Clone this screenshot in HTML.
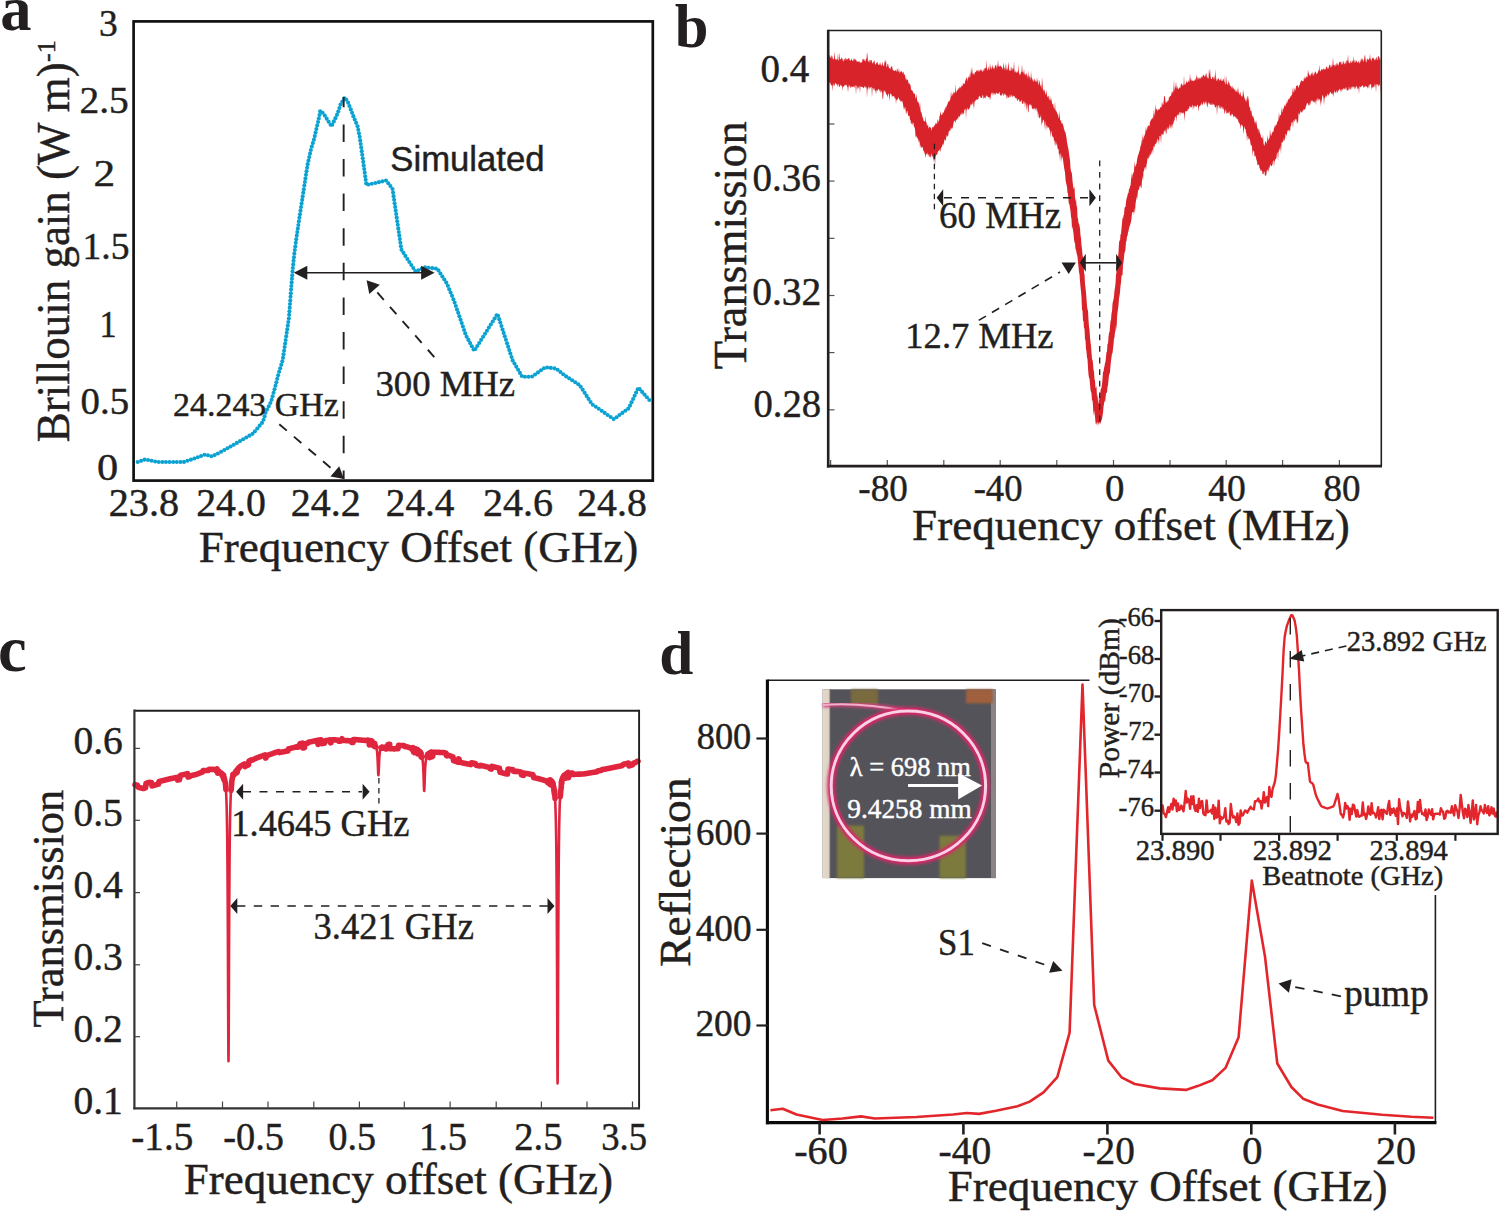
<!DOCTYPE html>
<html><head><meta charset="utf-8"><style>html,body{margin:0;padding:0;background:#fff;overflow:hidden;width:1499px;height:1211px;}svg{display:block;}</style></head>
<body><svg width="1499" height="1211" viewBox="0 0 1499 1211">
<rect width="1499" height="1211" fill="#fff"/>
<text x="0.30" y="30.25" font-family='"Liberation Serif", serif' font-size="62.5" font-weight="bold" fill="#231f20" stroke="#231f20" stroke-width="0">a</text>
<rect x="133.6" y="21.4" width="519.2" height="459.2" fill="none" stroke="#111" stroke-width="2.7"/>
<text transform="translate(98.91,35.95) scale(0.9662,1)" font-family='"Liberation Serif", serif' font-size="38.8" fill="#231f20" stroke="#231f20" stroke-width="0.45">3</text>
<text transform="translate(79.42,112.85) scale(1.0166,1)" font-family='"Liberation Serif", serif' font-size="38.8" fill="#231f20" stroke="#231f20" stroke-width="0.45">2.5</text>
<text transform="translate(93.45,186.05) scale(1.1161,1)" font-family='"Liberation Serif", serif' font-size="38.8" fill="#231f20" stroke="#231f20" stroke-width="0.45">2</text>
<text transform="translate(82.50,258.50) scale(0.9701,1)" font-family='"Liberation Serif", serif' font-size="38.8" fill="#231f20" stroke="#231f20" stroke-width="0.45">1.5</text>
<text transform="translate(99.42,336.50) scale(0.8800,1)" font-family='"Liberation Serif", serif' font-size="38.8" fill="#231f20" stroke="#231f20" stroke-width="0.45">1</text>
<text transform="translate(80.60,414.45) scale(1.0000,1)" font-family='"Liberation Serif", serif' font-size="38.8" fill="#231f20" stroke="#231f20" stroke-width="0.45">0.5</text>
<text transform="translate(96.96,479.65) scale(1.0909,1)" font-family='"Liberation Serif", serif' font-size="38.8" fill="#231f20" stroke="#231f20" stroke-width="0.45">0</text>
<text transform="translate(108.72,515.65) scale(1.0182,1)" font-family='"Liberation Serif", serif' font-size="39.5" fill="#231f20" stroke="#231f20" stroke-width="0.45">23.8</text>
<text transform="translate(196.14,515.65) scale(1.0076,1)" font-family='"Liberation Serif", serif' font-size="39.5" fill="#231f20" stroke="#231f20" stroke-width="0.45">24.0</text>
<text transform="translate(290.63,515.65) scale(1.0130,1)" font-family='"Liberation Serif", serif' font-size="39.5" fill="#231f20" stroke="#231f20" stroke-width="0.45">24.2</text>
<text transform="translate(385.86,515.65) scale(0.9925,1)" font-family='"Liberation Serif", serif' font-size="39.5" fill="#231f20" stroke="#231f20" stroke-width="0.45">24.4</text>
<text transform="translate(483.02,515.65) scale(1.0143,1)" font-family='"Liberation Serif", serif' font-size="39.5" fill="#231f20" stroke="#231f20" stroke-width="0.45">24.6</text>
<text transform="translate(577.14,515.65) scale(1.0076,1)" font-family='"Liberation Serif", serif' font-size="39.5" fill="#231f20" stroke="#231f20" stroke-width="0.45">24.8</text>
<text transform="translate(198.76,561.75) scale(0.9949,1)" font-family='"Liberation Serif", serif' font-size="45.3" fill="#231f20" stroke="#231f20" stroke-width="0.45">Frequency Offset (GHz)</text>
<text transform="translate(69.35,442.13) rotate(-90) scale(0.9879,1)" font-family='"Liberation Serif", serif' font-size="45.5" fill="#231f20" stroke="#231f20" stroke-width="0.45">Brillouin gain (W m)</text>
<text transform="translate(55,62) rotate(-90)" font-family='"Liberation Serif", serif' font-size="26" fill="#231f20" stroke="#231f20" stroke-width="0.45">-1</text>
<g fill="#0aa2d2"><circle cx="137.70" cy="462.00" r="2.05"/><circle cx="141.12" cy="460.83" r="2.05"/><circle cx="144.55" cy="459.66" r="2.05"/><circle cx="148.06" cy="459.98" r="2.05"/><circle cx="151.60" cy="460.73" r="2.05"/><circle cx="155.14" cy="461.48" r="2.05"/><circle cx="158.70" cy="462.00" r="2.05"/><circle cx="162.32" cy="462.00" r="2.05"/><circle cx="165.94" cy="462.00" r="2.05"/><circle cx="169.55" cy="462.00" r="2.05"/><circle cx="173.17" cy="462.00" r="2.05"/><circle cx="176.79" cy="462.00" r="2.05"/><circle cx="180.41" cy="462.00" r="2.05"/><circle cx="184.01" cy="461.90" r="2.05"/><circle cx="187.45" cy="460.77" r="2.05"/><circle cx="190.88" cy="459.65" r="2.05"/><circle cx="194.32" cy="458.53" r="2.05"/><circle cx="197.71" cy="457.25" r="2.05"/><circle cx="201.09" cy="455.96" r="2.05"/><circle cx="204.47" cy="454.68" r="2.05"/><circle cx="207.92" cy="455.19" r="2.05"/><circle cx="211.40" cy="456.20" r="2.05"/><circle cx="214.67" cy="455.09" r="2.05"/><circle cx="217.89" cy="453.44" r="2.05"/><circle cx="221.12" cy="451.80" r="2.05"/><circle cx="224.29" cy="450.06" r="2.05"/><circle cx="227.44" cy="448.28" r="2.05"/><circle cx="230.59" cy="446.50" r="2.05"/><circle cx="233.73" cy="444.72" r="2.05"/><circle cx="236.87" cy="442.91" r="2.05"/><circle cx="240.00" cy="441.10" r="2.05"/><circle cx="243.13" cy="439.29" r="2.05"/><circle cx="246.26" cy="437.48" r="2.05"/><circle cx="249.40" cy="435.67" r="2.05"/><circle cx="252.53" cy="433.86" r="2.05"/><circle cx="254.94" cy="431.18" r="2.05"/><circle cx="257.28" cy="428.43" r="2.05"/><circle cx="259.62" cy="425.67" r="2.05"/><circle cx="261.97" cy="422.92" r="2.05"/><circle cx="263.57" cy="419.76" r="2.05"/><circle cx="264.59" cy="416.29" r="2.05"/><circle cx="265.62" cy="412.82" r="2.05"/><circle cx="267.13" cy="409.54" r="2.05"/><circle cx="268.75" cy="406.31" r="2.05"/><circle cx="270.36" cy="403.07" r="2.05"/><circle cx="271.66" cy="399.71" r="2.05"/><circle cx="272.62" cy="396.23" r="2.05"/><circle cx="273.58" cy="392.74" r="2.05"/><circle cx="274.55" cy="389.25" r="2.05"/><circle cx="275.47" cy="385.75" r="2.05"/><circle cx="276.35" cy="382.25" r="2.05"/><circle cx="277.23" cy="378.74" r="2.05"/><circle cx="278.12" cy="375.23" r="2.05"/><circle cx="279.16" cy="371.77" r="2.05"/><circle cx="280.20" cy="368.30" r="2.05"/><circle cx="281.25" cy="364.84" r="2.05"/><circle cx="282.29" cy="361.37" r="2.05"/><circle cx="283.02" cy="357.84" r="2.05"/><circle cx="283.55" cy="354.26" r="2.05"/><circle cx="284.08" cy="350.68" r="2.05"/><circle cx="284.61" cy="347.10" r="2.05"/><circle cx="285.14" cy="343.53" r="2.05"/><circle cx="285.67" cy="339.95" r="2.05"/><circle cx="286.20" cy="336.37" r="2.05"/><circle cx="286.73" cy="332.79" r="2.05"/><circle cx="287.26" cy="329.21" r="2.05"/><circle cx="287.79" cy="325.63" r="2.05"/><circle cx="288.31" cy="322.05" r="2.05"/><circle cx="288.84" cy="318.48" r="2.05"/><circle cx="289.15" cy="314.87" r="2.05"/><circle cx="289.42" cy="311.27" r="2.05"/><circle cx="289.70" cy="307.66" r="2.05"/><circle cx="289.98" cy="304.05" r="2.05"/><circle cx="290.26" cy="300.44" r="2.05"/><circle cx="290.53" cy="296.84" r="2.05"/><circle cx="290.81" cy="293.23" r="2.05"/><circle cx="291.09" cy="289.62" r="2.05"/><circle cx="291.36" cy="286.02" r="2.05"/><circle cx="291.64" cy="282.41" r="2.05"/><circle cx="291.92" cy="278.80" r="2.05"/><circle cx="292.19" cy="275.20" r="2.05"/><circle cx="292.51" cy="271.59" r="2.05"/><circle cx="292.87" cy="267.99" r="2.05"/><circle cx="293.22" cy="264.39" r="2.05"/><circle cx="293.57" cy="260.79" r="2.05"/><circle cx="293.92" cy="257.19" r="2.05"/><circle cx="294.33" cy="253.60" r="2.05"/><circle cx="294.81" cy="250.01" r="2.05"/><circle cx="295.29" cy="246.43" r="2.05"/><circle cx="295.77" cy="242.84" r="2.05"/><circle cx="296.26" cy="239.26" r="2.05"/><circle cx="296.75" cy="235.67" r="2.05"/><circle cx="297.29" cy="232.10" r="2.05"/><circle cx="297.82" cy="228.52" r="2.05"/><circle cx="298.35" cy="224.94" r="2.05"/><circle cx="298.89" cy="221.36" r="2.05"/><circle cx="299.42" cy="217.78" r="2.05"/><circle cx="299.96" cy="214.21" r="2.05"/><circle cx="300.50" cy="210.63" r="2.05"/><circle cx="301.05" cy="207.05" r="2.05"/><circle cx="301.60" cy="203.48" r="2.05"/><circle cx="302.15" cy="199.90" r="2.05"/><circle cx="302.70" cy="196.33" r="2.05"/><circle cx="303.25" cy="192.75" r="2.05"/><circle cx="303.80" cy="189.18" r="2.05"/><circle cx="304.34" cy="185.60" r="2.05"/><circle cx="304.89" cy="182.03" r="2.05"/><circle cx="305.44" cy="178.45" r="2.05"/><circle cx="305.99" cy="174.87" r="2.05"/><circle cx="306.54" cy="171.30" r="2.05"/><circle cx="307.08" cy="167.72" r="2.05"/><circle cx="307.69" cy="164.16" r="2.05"/><circle cx="308.47" cy="160.63" r="2.05"/><circle cx="309.26" cy="157.10" r="2.05"/><circle cx="310.05" cy="153.56" r="2.05"/><circle cx="310.84" cy="150.03" r="2.05"/><circle cx="311.78" cy="146.54" r="2.05"/><circle cx="312.86" cy="143.09" r="2.05"/><circle cx="313.93" cy="139.64" r="2.05"/><circle cx="314.77" cy="136.12" r="2.05"/><circle cx="315.56" cy="132.59" r="2.05"/><circle cx="316.35" cy="129.06" r="2.05"/><circle cx="317.18" cy="125.54" r="2.05"/><circle cx="318.02" cy="122.02" r="2.05"/><circle cx="318.78" cy="118.48" r="2.05"/><circle cx="319.48" cy="114.93" r="2.05"/><circle cx="320.18" cy="111.39" r="2.05"/><circle cx="322.61" cy="112.75" r="2.05"/><circle cx="324.80" cy="115.58" r="2.05"/><circle cx="326.72" cy="118.65" r="2.05"/><circle cx="328.63" cy="121.71" r="2.05"/><circle cx="330.55" cy="124.78" r="2.05"/><circle cx="332.29" cy="124.65" r="2.05"/><circle cx="333.85" cy="121.39" r="2.05"/><circle cx="335.42" cy="118.13" r="2.05"/><circle cx="336.98" cy="114.87" r="2.05"/><circle cx="338.24" cy="111.48" r="2.05"/><circle cx="339.38" cy="108.05" r="2.05"/><circle cx="340.53" cy="104.62" r="2.05"/><circle cx="342.36" cy="101.51" r="2.05"/><circle cx="344.24" cy="98.42" r="2.05"/><circle cx="346.21" cy="99.62" r="2.05"/><circle cx="348.14" cy="102.67" r="2.05"/><circle cx="349.45" cy="106.04" r="2.05"/><circle cx="350.77" cy="109.41" r="2.05"/><circle cx="352.07" cy="112.78" r="2.05"/><circle cx="353.38" cy="116.16" r="2.05"/><circle cx="354.71" cy="119.52" r="2.05"/><circle cx="356.13" cy="122.85" r="2.05"/><circle cx="357.55" cy="126.18" r="2.05"/><circle cx="358.27" cy="129.72" r="2.05"/><circle cx="358.97" cy="133.27" r="2.05"/><circle cx="359.67" cy="136.82" r="2.05"/><circle cx="360.21" cy="140.39" r="2.05"/><circle cx="360.72" cy="143.97" r="2.05"/><circle cx="361.24" cy="147.55" r="2.05"/><circle cx="361.74" cy="151.14" r="2.05"/><circle cx="362.23" cy="154.72" r="2.05"/><circle cx="362.72" cy="158.30" r="2.05"/><circle cx="363.22" cy="161.89" r="2.05"/><circle cx="363.71" cy="165.47" r="2.05"/><circle cx="364.20" cy="169.05" r="2.05"/><circle cx="364.70" cy="172.64" r="2.05"/><circle cx="365.19" cy="176.22" r="2.05"/><circle cx="365.68" cy="179.81" r="2.05"/><circle cx="366.18" cy="183.39" r="2.05"/><circle cx="368.34" cy="184.56" r="2.05"/><circle cx="371.87" cy="183.76" r="2.05"/><circle cx="375.40" cy="182.96" r="2.05"/><circle cx="378.92" cy="182.15" r="2.05"/><circle cx="382.45" cy="181.35" r="2.05"/><circle cx="385.98" cy="180.55" r="2.05"/><circle cx="388.25" cy="183.20" r="2.05"/><circle cx="390.44" cy="186.08" r="2.05"/><circle cx="392.53" cy="189.00" r="2.05"/><circle cx="393.05" cy="192.58" r="2.05"/><circle cx="393.58" cy="196.16" r="2.05"/><circle cx="394.10" cy="199.74" r="2.05"/><circle cx="394.62" cy="203.32" r="2.05"/><circle cx="395.15" cy="206.90" r="2.05"/><circle cx="395.67" cy="210.48" r="2.05"/><circle cx="396.19" cy="214.06" r="2.05"/><circle cx="396.71" cy="217.64" r="2.05"/><circle cx="397.24" cy="221.22" r="2.05"/><circle cx="397.76" cy="224.80" r="2.05"/><circle cx="398.28" cy="228.38" r="2.05"/><circle cx="398.81" cy="231.96" r="2.05"/><circle cx="399.33" cy="235.54" r="2.05"/><circle cx="399.85" cy="239.12" r="2.05"/><circle cx="400.38" cy="242.70" r="2.05"/><circle cx="400.90" cy="246.28" r="2.05"/><circle cx="401.49" cy="249.83" r="2.05"/><circle cx="403.45" cy="252.87" r="2.05"/><circle cx="405.41" cy="255.91" r="2.05"/><circle cx="407.38" cy="258.94" r="2.05"/><circle cx="409.34" cy="261.98" r="2.05"/><circle cx="411.31" cy="265.02" r="2.05"/><circle cx="413.27" cy="268.06" r="2.05"/><circle cx="415.24" cy="271.09" r="2.05"/><circle cx="418.38" cy="270.26" r="2.05"/><circle cx="421.70" cy="268.82" r="2.05"/><circle cx="425.02" cy="267.40" r="2.05"/><circle cx="428.62" cy="267.78" r="2.05"/><circle cx="432.22" cy="268.16" r="2.05"/><circle cx="435.82" cy="268.53" r="2.05"/><circle cx="438.49" cy="270.41" r="2.05"/><circle cx="440.43" cy="273.46" r="2.05"/><circle cx="442.37" cy="276.51" r="2.05"/><circle cx="444.31" cy="279.57" r="2.05"/><circle cx="446.25" cy="282.62" r="2.05"/><circle cx="447.85" cy="285.85" r="2.05"/><circle cx="449.24" cy="289.19" r="2.05"/><circle cx="450.62" cy="292.53" r="2.05"/><circle cx="452.01" cy="295.87" r="2.05"/><circle cx="453.39" cy="299.22" r="2.05"/><circle cx="454.64" cy="302.61" r="2.05"/><circle cx="455.82" cy="306.03" r="2.05"/><circle cx="457.00" cy="309.45" r="2.05"/><circle cx="458.19" cy="312.87" r="2.05"/><circle cx="459.37" cy="316.28" r="2.05"/><circle cx="460.56" cy="319.70" r="2.05"/><circle cx="461.74" cy="323.12" r="2.05"/><circle cx="462.93" cy="326.54" r="2.05"/><circle cx="464.11" cy="329.96" r="2.05"/><circle cx="465.29" cy="333.38" r="2.05"/><circle cx="466.65" cy="336.72" r="2.05"/><circle cx="468.38" cy="339.90" r="2.05"/><circle cx="470.11" cy="343.08" r="2.05"/><circle cx="471.83" cy="346.25" r="2.05"/><circle cx="473.56" cy="349.43" r="2.05"/><circle cx="475.40" cy="349.05" r="2.05"/><circle cx="477.32" cy="345.99" r="2.05"/><circle cx="479.25" cy="342.93" r="2.05"/><circle cx="481.17" cy="339.87" r="2.05"/><circle cx="483.10" cy="336.80" r="2.05"/><circle cx="485.02" cy="333.74" r="2.05"/><circle cx="486.95" cy="330.68" r="2.05"/><circle cx="488.88" cy="327.62" r="2.05"/><circle cx="490.80" cy="324.55" r="2.05"/><circle cx="492.73" cy="321.49" r="2.05"/><circle cx="494.65" cy="318.43" r="2.05"/><circle cx="496.58" cy="315.37" r="2.05"/><circle cx="498.08" cy="315.69" r="2.05"/><circle cx="499.20" cy="319.13" r="2.05"/><circle cx="500.32" cy="322.57" r="2.05"/><circle cx="501.44" cy="326.01" r="2.05"/><circle cx="502.56" cy="329.45" r="2.05"/><circle cx="503.68" cy="332.89" r="2.05"/><circle cx="504.80" cy="336.33" r="2.05"/><circle cx="505.92" cy="339.77" r="2.05"/><circle cx="507.04" cy="343.21" r="2.05"/><circle cx="508.16" cy="346.65" r="2.05"/><circle cx="509.28" cy="350.09" r="2.05"/><circle cx="510.40" cy="353.53" r="2.05"/><circle cx="511.52" cy="356.97" r="2.05"/><circle cx="512.66" cy="360.40" r="2.05"/><circle cx="514.48" cy="363.53" r="2.05"/><circle cx="516.30" cy="366.65" r="2.05"/><circle cx="518.12" cy="369.78" r="2.05"/><circle cx="519.94" cy="372.91" r="2.05"/><circle cx="521.76" cy="376.04" r="2.05"/><circle cx="524.93" cy="376.80" r="2.05"/><circle cx="528.55" cy="376.80" r="2.05"/><circle cx="532.08" cy="376.53" r="2.05"/><circle cx="535.05" cy="374.46" r="2.05"/><circle cx="538.01" cy="372.38" r="2.05"/><circle cx="540.97" cy="370.30" r="2.05"/><circle cx="543.93" cy="368.23" r="2.05"/><circle cx="547.21" cy="367.43" r="2.05"/><circle cx="550.80" cy="367.89" r="2.05"/><circle cx="554.39" cy="368.35" r="2.05"/><circle cx="557.60" cy="369.68" r="2.05"/><circle cx="560.39" cy="371.99" r="2.05"/><circle cx="563.17" cy="374.30" r="2.05"/><circle cx="566.09" cy="376.41" r="2.05"/><circle cx="569.15" cy="378.35" r="2.05"/><circle cx="572.20" cy="380.30" r="2.05"/><circle cx="575.25" cy="382.24" r="2.05"/><circle cx="578.31" cy="384.18" r="2.05"/><circle cx="580.73" cy="386.75" r="2.05"/><circle cx="582.69" cy="389.79" r="2.05"/><circle cx="584.65" cy="392.83" r="2.05"/><circle cx="586.60" cy="395.88" r="2.05"/><circle cx="588.56" cy="398.92" r="2.05"/><circle cx="590.52" cy="401.96" r="2.05"/><circle cx="592.78" cy="404.71" r="2.05"/><circle cx="595.76" cy="406.76" r="2.05"/><circle cx="598.74" cy="408.81" r="2.05"/><circle cx="601.72" cy="410.87" r="2.05"/><circle cx="604.69" cy="412.92" r="2.05"/><circle cx="607.67" cy="414.98" r="2.05"/><circle cx="610.65" cy="417.03" r="2.05"/><circle cx="613.63" cy="419.08" r="2.05"/><circle cx="616.55" cy="417.18" r="2.05"/><circle cx="619.47" cy="415.04" r="2.05"/><circle cx="622.38" cy="412.91" r="2.05"/><circle cx="625.30" cy="410.77" r="2.05"/><circle cx="628.22" cy="408.63" r="2.05"/><circle cx="630.03" cy="405.58" r="2.05"/><circle cx="631.56" cy="402.30" r="2.05"/><circle cx="633.10" cy="399.03" r="2.05"/><circle cx="634.63" cy="395.75" r="2.05"/><circle cx="636.16" cy="392.47" r="2.05"/><circle cx="637.70" cy="389.20" r="2.05"/><circle cx="639.70" cy="389.17" r="2.05"/><circle cx="642.10" cy="391.88" r="2.05"/><circle cx="644.50" cy="394.59" r="2.05"/><circle cx="646.90" cy="397.29" r="2.05"/><circle cx="649.30" cy="400.00" r="2.05"/></g>
<line x1="343.65" y1="97" x2="343.65" y2="479" stroke="#231f20" stroke-width="1.9" stroke-dasharray="17.5 17.1" stroke-dashoffset="7.2"/>
<line x1="300.00" y1="272.70" x2="428.00" y2="272.70" stroke="#231f20" stroke-width="1.6" stroke-linecap="butt"/>
<polygon points="293.80,272.70 307.30,265.70 307.30,279.70" fill="#231f20"/>
<polygon points="434.60,272.70 421.10,279.70 421.10,265.70" fill="#231f20"/>
<line x1="434.30" y1="357.10" x2="371.36" y2="285.70" stroke="#231f20" stroke-width="1.9" stroke-dasharray="9.8 9.3" stroke-linecap="butt"/>
<polygon points="366.60,280.30 379.79,284.67 369.28,293.93" fill="#231f20"/>
<line x1="279.30" y1="424.30" x2="338.51" y2="474.45" stroke="#231f20" stroke-width="1.9" stroke-dasharray="9.8 9.3" stroke-linecap="butt"/>
<polygon points="344.00,479.10 330.45,476.53 339.24,466.16" fill="#231f20"/>
<text x="390.30" y="171.05" font-family='"Liberation Sans", sans-serif' font-size="34.71" fill="#231f20" stroke="#231f20" stroke-width="0.45">Simulated</text>
<text x="375.45" y="395.80" font-family='"Liberation Serif", serif' font-size="36.7" fill="#231f20" stroke="#231f20" stroke-width="0.45">300 MHz</text>
<text x="173.00" y="415.50" font-family='"Liberation Serif", serif' font-size="33.95" fill="#231f20" stroke="#231f20" stroke-width="0.45">24.243 GHz</text>
<text x="674.65" y="47.20" font-family='"Liberation Serif", serif' font-size="60.6" font-weight="bold" fill="#231f20" stroke="#231f20" stroke-width="0">b</text>
<line x1="828.00" y1="66.80" x2="834.50" y2="66.80" stroke="#555" stroke-width="1.2" stroke-linecap="butt"/>
<line x1="828.00" y1="124.00" x2="834.50" y2="124.00" stroke="#555" stroke-width="1.2" stroke-linecap="butt"/>
<line x1="828.00" y1="181.10" x2="834.50" y2="181.10" stroke="#555" stroke-width="1.2" stroke-linecap="butt"/>
<line x1="828.00" y1="238.30" x2="834.50" y2="238.30" stroke="#555" stroke-width="1.2" stroke-linecap="butt"/>
<line x1="828.00" y1="295.50" x2="834.50" y2="295.50" stroke="#555" stroke-width="1.2" stroke-linecap="butt"/>
<line x1="828.00" y1="352.60" x2="834.50" y2="352.60" stroke="#555" stroke-width="1.2" stroke-linecap="butt"/>
<line x1="828.00" y1="409.80" x2="834.50" y2="409.80" stroke="#555" stroke-width="1.2" stroke-linecap="butt"/>
<line x1="830.60" y1="460.00" x2="830.60" y2="466.00" stroke="#555" stroke-width="1.2" stroke-linecap="butt"/>
<line x1="887.30" y1="460.00" x2="887.30" y2="466.00" stroke="#555" stroke-width="1.2" stroke-linecap="butt"/>
<line x1="943.80" y1="460.00" x2="943.80" y2="466.00" stroke="#555" stroke-width="1.2" stroke-linecap="butt"/>
<line x1="1000.20" y1="460.00" x2="1000.20" y2="466.00" stroke="#555" stroke-width="1.2" stroke-linecap="butt"/>
<line x1="1056.80" y1="460.00" x2="1056.80" y2="466.00" stroke="#555" stroke-width="1.2" stroke-linecap="butt"/>
<line x1="1113.50" y1="460.00" x2="1113.50" y2="466.00" stroke="#555" stroke-width="1.2" stroke-linecap="butt"/>
<line x1="1170.00" y1="460.00" x2="1170.00" y2="466.00" stroke="#555" stroke-width="1.2" stroke-linecap="butt"/>
<line x1="1226.20" y1="460.00" x2="1226.20" y2="466.00" stroke="#555" stroke-width="1.2" stroke-linecap="butt"/>
<line x1="1282.60" y1="460.00" x2="1282.60" y2="466.00" stroke="#555" stroke-width="1.2" stroke-linecap="butt"/>
<line x1="1339.40" y1="460.00" x2="1339.40" y2="466.00" stroke="#555" stroke-width="1.2" stroke-linecap="butt"/>
<polygon points="829.0,55.0 829.5,55.1 830.0,58.2 830.5,56.9 831.0,56.2 831.5,55.0 832.0,59.3 832.5,55.3 833.0,59.7 833.5,58.9 834.0,58.6 834.5,51.2 835.0,57.9 835.5,59.9 836.0,58.8 836.5,59.5 837.0,60.1 837.5,59.0 838.0,53.1 838.5,60.4 839.0,60.5 839.5,52.3 840.0,59.4 840.5,59.3 841.0,59.1 841.5,56.9 842.0,58.8 842.5,58.7 843.0,61.6 843.5,61.3 844.0,58.5 844.5,60.2 845.0,58.0 845.5,58.0 846.0,60.8 846.5,58.8 847.0,58.8 847.5,59.7 848.0,58.4 848.5,58.6 849.0,57.8 849.5,58.9 850.0,61.2 850.5,60.2 851.0,60.0 851.5,57.9 852.0,60.6 852.5,60.6 853.0,61.2 853.5,58.1 854.0,61.1 854.5,58.4 855.0,58.7 855.5,59.4 856.0,60.5 856.5,60.2 857.0,62.4 857.5,61.2 858.0,61.2 858.5,61.7 859.0,61.5 859.5,61.6 860.0,62.8 860.5,63.1 861.0,61.3 861.5,62.6 862.0,62.8 862.5,59.4 863.0,58.6 863.5,59.2 864.0,60.4 864.5,58.9 865.0,61.7 865.5,61.2 866.0,58.7 866.5,58.9 867.0,52.1 867.5,55.2 868.0,61.7 868.5,61.7 869.0,60.0 869.5,60.3 870.0,63.3 870.5,59.6 871.0,60.6 871.5,59.7 872.0,61.5 872.5,64.1 873.0,62.5 873.5,62.2 874.0,60.5 874.5,60.6 875.0,64.7 875.5,64.5 876.0,62.9 876.5,63.4 877.0,62.1 877.5,62.1 878.0,64.4 878.5,65.3 879.0,63.9 879.5,65.2 880.0,61.7 880.5,63.9 881.0,65.8 881.5,65.4 882.0,63.8 882.5,61.7 883.0,66.0 883.5,65.2 884.0,66.2 884.5,62.0 885.0,60.5 885.5,63.0 886.0,58.8 886.5,67.3 887.0,67.0 887.5,64.1 888.0,64.1 888.5,65.7 889.0,67.9 889.5,67.9 890.0,68.8 890.5,69.0 891.0,66.0 891.5,67.1 892.0,65.9 892.5,68.2 893.0,70.8 893.5,69.9 894.0,70.7 894.5,70.7 895.0,71.3 895.5,69.5 896.0,70.8 896.5,72.1 897.0,68.5 897.5,69.0 898.0,72.1 898.5,71.4 899.0,67.8 899.5,74.2 900.0,70.3 900.5,72.2 901.0,71.9 901.5,70.7 902.0,71.7 902.5,73.6 903.0,71.7 903.5,71.8 904.0,75.6 904.5,74.4 905.0,74.1 905.5,79.9 906.0,76.3 906.5,81.1 907.0,79.1 907.5,79.8 908.0,79.9 908.5,83.1 909.0,83.9 909.5,82.8 910.0,85.2 910.5,84.6 911.0,89.6 911.5,90.2 912.0,89.7 912.5,91.0 913.0,92.0 913.5,92.9 914.0,94.2 914.5,92.8 915.0,94.4 915.5,97.7 916.0,98.8 916.5,93.6 917.0,99.2 917.5,102.6 918.0,100.6 918.5,102.9 919.0,103.5 919.5,108.0 920.0,101.6 920.5,109.9 921.0,112.3 921.5,112.2 922.0,115.2 922.5,117.0 923.0,117.9 923.5,120.3 924.0,121.2 924.5,121.1 925.0,121.8 925.5,115.8 926.0,123.0 926.5,121.7 927.0,126.3 927.5,125.2 928.0,123.9 928.5,128.8 929.0,127.4 929.5,126.5 930.0,126.7 930.5,127.5 931.0,128.2 931.5,131.1 932.0,127.7 932.5,127.2 933.0,126.8 933.5,127.4 934.0,125.5 934.5,125.7 935.0,125.1 935.5,123.2 936.0,123.2 936.5,123.2 937.0,124.5 937.5,120.3 938.0,118.9 938.5,121.9 939.0,121.3 939.5,116.3 940.0,115.3 940.5,110.4 941.0,114.5 941.5,114.5 942.0,115.4 942.5,113.8 943.0,111.5 943.5,113.2 944.0,111.9 944.5,108.2 945.0,111.0 945.5,106.3 946.0,107.9 946.5,106.7 947.0,104.7 947.5,104.4 948.0,102.0 948.5,101.2 949.0,102.2 949.5,100.5 950.0,99.9 950.5,98.1 951.0,90.4 951.5,95.6 952.0,97.0 952.5,92.9 953.0,94.9 953.5,91.9 954.0,91.6 954.5,93.0 955.0,93.6 955.5,83.5 956.0,93.5 956.5,91.1 957.0,91.1 957.5,89.2 958.0,90.3 958.5,87.7 959.0,88.9 959.5,86.1 960.0,88.9 960.5,86.6 961.0,87.7 961.5,85.5 962.0,85.8 962.5,86.3 963.0,82.3 963.5,84.6 964.0,83.5 964.5,84.3 965.0,82.0 965.5,80.2 966.0,78.5 966.5,78.4 967.0,76.4 967.5,81.4 968.0,78.5 968.5,76.1 969.0,78.2 969.5,76.5 970.0,71.9 970.5,77.7 971.0,67.8 971.5,73.7 972.0,66.5 972.5,72.8 973.0,74.7 973.5,72.6 974.0,75.5 974.5,73.5 975.0,72.2 975.5,71.9 976.0,71.5 976.5,69.7 977.0,72.1 977.5,70.5 978.0,69.4 978.5,72.1 979.0,69.5 979.5,71.7 980.0,70.1 980.5,68.8 981.0,71.8 981.5,69.3 982.0,70.7 982.5,72.5 983.0,68.4 983.5,70.6 984.0,71.5 984.5,67.9 985.0,68.4 985.5,67.7 986.0,67.8 986.5,59.3 987.0,71.0 987.5,69.5 988.0,68.3 988.5,66.4 989.0,70.1 989.5,69.9 990.0,62.7 990.5,68.2 991.0,66.1 991.5,69.4 992.0,68.6 992.5,64.3 993.0,67.5 993.5,69.2 994.0,66.4 994.5,69.4 995.0,66.0 995.5,64.9 996.0,65.4 996.5,68.8 997.0,63.0 997.5,68.2 998.0,59.3 998.5,65.7 999.0,66.7 999.5,65.9 1000.0,66.6 1000.5,65.6 1001.0,66.1 1001.5,67.4 1002.0,66.8 1002.5,69.7 1003.0,67.8 1003.5,62.1 1004.0,67.6 1004.5,67.8 1005.0,70.7 1005.5,66.4 1006.0,62.8 1006.5,70.5 1007.0,68.0 1007.5,70.6 1008.0,65.9 1008.5,61.5 1009.0,69.2 1009.5,71.0 1010.0,70.3 1010.5,70.9 1011.0,66.4 1011.5,67.9 1012.0,71.5 1012.5,68.6 1013.0,68.3 1013.5,69.2 1014.0,60.5 1014.5,70.7 1015.0,72.7 1015.5,70.3 1016.0,73.1 1016.5,72.5 1017.0,70.9 1017.5,71.4 1018.0,73.3 1018.5,64.3 1019.0,73.3 1019.5,75.4 1020.0,72.2 1020.5,75.3 1021.0,72.5 1021.5,71.7 1022.0,64.2 1022.5,72.0 1023.0,71.4 1023.5,73.9 1024.0,68.4 1024.5,73.7 1025.0,74.7 1025.5,73.5 1026.0,76.5 1026.5,72.7 1027.0,74.1 1027.5,76.3 1028.0,78.3 1028.5,70.2 1029.0,79.1 1029.5,75.6 1030.0,76.6 1030.5,80.8 1031.0,70.4 1031.5,77.8 1032.0,77.5 1032.5,80.9 1033.0,78.5 1033.5,81.6 1034.0,81.8 1034.5,78.6 1035.0,79.7 1035.5,81.6 1036.0,81.2 1036.5,82.5 1037.0,77.0 1037.5,82.6 1038.0,78.8 1038.5,85.6 1039.0,83.7 1039.5,79.4 1040.0,83.6 1040.5,86.4 1041.0,84.7 1041.5,89.0 1042.0,76.8 1042.5,83.4 1043.0,90.0 1043.5,89.5 1044.0,92.6 1044.5,89.1 1045.0,91.4 1045.5,94.6 1046.0,94.3 1046.5,89.8 1047.0,95.6 1047.5,97.4 1048.0,95.9 1048.5,95.5 1049.0,99.5 1049.5,100.1 1050.0,95.8 1050.5,99.6 1051.0,101.5 1051.5,97.8 1052.0,103.7 1052.5,104.7 1053.0,102.8 1053.5,106.2 1054.0,108.4 1054.5,108.9 1055.0,101.1 1055.5,111.0 1056.0,110.0 1056.5,111.5 1057.0,112.4 1057.5,115.1 1058.0,113.0 1058.5,118.1 1059.0,117.3 1059.5,110.7 1060.0,119.8 1060.5,121.3 1061.0,119.6 1061.5,123.3 1062.0,123.8 1062.5,122.9 1063.0,124.7 1063.5,126.2 1064.0,129.2 1064.5,129.9 1065.0,132.5 1065.5,132.1 1066.0,135.6 1066.5,137.6 1067.0,142.6 1067.5,144.7 1068.0,147.6 1068.5,149.4 1069.0,153.4 1069.5,156.9 1070.0,160.1 1070.5,168.1 1071.0,171.6 1071.5,171.9 1072.0,174.3 1072.5,181.0 1073.0,184.9 1073.5,188.8 1074.0,188.5 1074.5,186.2 1075.0,197.8 1075.5,201.7 1076.0,197.0 1076.5,207.7 1077.0,204.1 1077.5,217.1 1078.0,218.9 1078.5,223.0 1079.0,223.8 1079.5,225.4 1080.0,228.4 1080.5,235.2 1081.0,238.4 1081.5,245.0 1082.0,249.0 1082.5,255.1 1083.0,257.0 1083.5,261.7 1084.0,272.4 1084.5,274.6 1085.0,283.7 1085.5,288.1 1086.0,292.7 1086.5,299.1 1087.0,305.7 1087.5,309.4 1088.0,310.4 1088.5,319.8 1089.0,327.1 1089.5,329.9 1090.0,337.2 1090.5,342.3 1091.0,345.8 1091.5,352.4 1092.0,358.9 1092.5,359.8 1093.0,363.1 1093.5,370.0 1094.0,371.5 1094.5,379.3 1095.0,380.4 1095.5,387.4 1096.0,388.3 1096.5,385.5 1097.0,397.5 1097.5,393.5 1098.0,402.4 1098.5,403.5 1099.0,395.9 1099.5,400.4 1100.0,396.4 1100.5,391.0 1101.0,388.5 1101.5,387.8 1102.0,384.3 1102.5,379.1 1103.0,372.0 1103.5,371.8 1104.0,368.1 1104.5,366.3 1105.0,363.2 1105.5,361.5 1106.0,357.0 1106.5,352.0 1107.0,351.6 1107.5,343.6 1108.0,343.9 1108.5,337.0 1109.0,332.8 1109.5,332.3 1110.0,326.8 1110.5,321.1 1111.0,319.9 1111.5,313.5 1112.0,311.6 1112.5,303.8 1113.0,301.2 1113.5,299.5 1114.0,296.0 1114.5,290.6 1115.0,287.4 1115.5,283.7 1116.0,274.5 1116.5,272.6 1117.0,262.7 1117.5,263.6 1118.0,257.0 1118.5,252.5 1119.0,243.1 1119.5,240.0 1120.0,241.1 1120.5,234.0 1121.0,234.5 1121.5,228.3 1122.0,223.5 1122.5,217.1 1123.0,219.6 1123.5,215.3 1124.0,214.7 1124.5,208.3 1125.0,207.1 1125.5,206.9 1126.0,202.0 1126.5,198.6 1127.0,197.4 1127.5,195.3 1128.0,192.8 1128.5,193.3 1129.0,188.4 1129.5,189.2 1130.0,186.3 1130.5,185.7 1131.0,181.1 1131.5,172.6 1132.0,179.2 1132.5,174.5 1133.0,174.1 1133.5,172.1 1134.0,172.2 1134.5,160.6 1135.0,167.3 1135.5,166.0 1136.0,164.6 1136.5,163.9 1137.0,159.9 1137.5,157.6 1138.0,155.3 1138.5,154.6 1139.0,152.3 1139.5,150.8 1140.0,149.8 1140.5,145.6 1141.0,145.9 1141.5,139.1 1142.0,144.7 1142.5,133.4 1143.0,140.2 1143.5,137.6 1144.0,136.8 1144.5,135.6 1145.0,134.0 1145.5,131.0 1146.0,126.1 1146.5,131.2 1147.0,129.3 1147.5,127.3 1148.0,125.2 1148.5,126.0 1149.0,125.6 1149.5,126.5 1150.0,121.2 1150.5,121.7 1151.0,119.6 1151.5,119.5 1152.0,118.5 1152.5,116.9 1153.0,119.8 1153.5,114.3 1154.0,108.6 1154.5,116.3 1155.0,112.9 1155.5,103.9 1156.0,109.8 1156.5,109.6 1157.0,108.2 1157.5,110.9 1158.0,110.1 1158.5,109.8 1159.0,108.0 1159.5,109.7 1160.0,108.8 1160.5,106.4 1161.0,107.4 1161.5,107.1 1162.0,101.2 1162.5,103.9 1163.0,105.5 1163.5,103.3 1164.0,97.7 1164.5,95.8 1165.0,95.9 1165.5,103.7 1166.0,100.7 1166.5,102.7 1167.0,102.4 1167.5,101.1 1168.0,100.3 1168.5,101.1 1169.0,96.2 1169.5,98.0 1170.0,96.1 1170.5,95.8 1171.0,95.7 1171.5,93.4 1172.0,90.8 1172.5,91.9 1173.0,93.4 1173.5,89.1 1174.0,79.2 1174.5,91.3 1175.0,88.1 1175.5,86.7 1176.0,81.6 1176.5,87.0 1177.0,88.9 1177.5,85.7 1178.0,89.6 1178.5,88.9 1179.0,88.0 1179.5,86.9 1180.0,88.4 1180.5,86.9 1181.0,83.5 1181.5,83.4 1182.0,84.9 1182.5,85.7 1183.0,84.1 1183.5,85.9 1184.0,75.0 1184.5,84.7 1185.0,84.6 1185.5,84.2 1186.0,82.4 1186.5,80.2 1187.0,83.4 1187.5,81.9 1188.0,82.3 1188.5,79.7 1189.0,82.6 1189.5,80.8 1190.0,73.1 1190.5,80.2 1191.0,78.0 1191.5,81.6 1192.0,79.3 1192.5,81.0 1193.0,81.3 1193.5,80.8 1194.0,81.0 1194.5,79.5 1195.0,81.1 1195.5,79.0 1196.0,78.3 1196.5,74.1 1197.0,80.0 1197.5,77.7 1198.0,76.6 1198.5,79.9 1199.0,77.3 1199.5,79.1 1200.0,77.6 1200.5,79.3 1201.0,76.7 1201.5,76.4 1202.0,78.4 1202.5,76.1 1203.0,75.3 1203.5,75.3 1204.0,74.8 1204.5,77.0 1205.0,76.3 1205.5,75.5 1206.0,73.2 1206.5,73.6 1207.0,78.7 1207.5,76.2 1208.0,78.5 1208.5,78.2 1209.0,68.8 1209.5,74.7 1210.0,68.0 1210.5,75.9 1211.0,79.1 1211.5,79.0 1212.0,78.7 1212.5,76.7 1213.0,76.7 1213.5,77.6 1214.0,79.8 1214.5,74.6 1215.0,80.8 1215.5,69.1 1216.0,77.1 1216.5,80.6 1217.0,81.3 1217.5,79.3 1218.0,79.2 1218.5,77.8 1219.0,79.6 1219.5,81.0 1220.0,79.0 1220.5,80.5 1221.0,77.6 1221.5,80.9 1222.0,81.1 1222.5,81.1 1223.0,78.7 1223.5,79.0 1224.0,81.3 1224.5,83.3 1225.0,74.4 1225.5,84.1 1226.0,84.5 1226.5,75.7 1227.0,85.6 1227.5,83.0 1228.0,84.9 1228.5,80.1 1229.0,82.8 1229.5,83.1 1230.0,86.4 1230.5,85.4 1231.0,86.3 1231.5,86.9 1232.0,88.9 1232.5,85.3 1233.0,89.6 1233.5,87.1 1234.0,89.3 1234.5,90.6 1235.0,88.2 1235.5,91.0 1236.0,91.8 1236.5,92.0 1237.0,88.5 1237.5,93.2 1238.0,86.5 1238.5,91.7 1239.0,93.6 1239.5,95.0 1240.0,92.1 1240.5,92.6 1241.0,96.0 1241.5,96.6 1242.0,95.0 1242.5,97.5 1243.0,89.5 1243.5,92.7 1244.0,95.8 1244.5,98.1 1245.0,99.6 1245.5,101.8 1246.0,98.1 1246.5,102.5 1247.0,96.2 1247.5,96.2 1248.0,101.1 1248.5,96.1 1249.0,104.7 1249.5,107.7 1250.0,106.4 1250.5,111.5 1251.0,110.6 1251.5,111.1 1252.0,116.1 1252.5,116.8 1253.0,114.8 1253.5,118.2 1254.0,118.3 1254.5,121.4 1255.0,123.6 1255.5,120.2 1256.0,125.3 1256.5,119.7 1257.0,126.8 1257.5,128.1 1258.0,129.7 1258.5,128.3 1259.0,133.3 1259.5,128.6 1260.0,134.4 1260.5,133.4 1261.0,137.4 1261.5,138.1 1262.0,136.6 1262.5,139.8 1263.0,134.3 1263.5,143.0 1264.0,145.2 1264.5,145.7 1265.0,141.9 1265.5,141.5 1266.0,141.0 1266.5,143.9 1267.0,142.2 1267.5,134.7 1268.0,140.2 1268.5,139.9 1269.0,137.4 1269.5,138.7 1270.0,128.9 1270.5,133.7 1271.0,136.6 1271.5,134.4 1272.0,133.0 1272.5,132.3 1273.0,131.3 1273.5,131.9 1274.0,127.5 1274.5,127.7 1275.0,124.2 1275.5,126.8 1276.0,125.1 1276.5,125.1 1277.0,122.7 1277.5,121.4 1278.0,120.9 1278.5,118.9 1279.0,111.8 1279.5,118.4 1280.0,114.6 1280.5,115.1 1281.0,115.4 1281.5,106.8 1282.0,112.4 1282.5,111.3 1283.0,107.5 1283.5,109.5 1284.0,107.3 1284.5,104.5 1285.0,106.3 1285.5,106.2 1286.0,102.7 1286.5,104.4 1287.0,99.7 1287.5,103.4 1288.0,99.9 1288.5,99.5 1289.0,98.2 1289.5,99.1 1290.0,97.6 1290.5,95.9 1291.0,97.0 1291.5,94.8 1292.0,95.3 1292.5,90.9 1293.0,87.0 1293.5,91.7 1294.0,92.8 1294.5,88.9 1295.0,87.9 1295.5,90.9 1296.0,86.3 1296.5,85.9 1297.0,85.2 1297.5,84.8 1298.0,86.9 1298.5,87.9 1299.0,85.1 1299.5,85.7 1300.0,83.6 1300.5,82.3 1301.0,80.7 1301.5,79.8 1302.0,81.4 1302.5,81.0 1303.0,81.3 1303.5,81.2 1304.0,77.3 1304.5,79.5 1305.0,75.8 1305.5,79.6 1306.0,77.0 1306.5,76.1 1307.0,77.9 1307.5,76.8 1308.0,69.5 1308.5,72.6 1309.0,74.8 1309.5,76.0 1310.0,73.4 1310.5,76.7 1311.0,74.1 1311.5,72.6 1312.0,75.3 1312.5,71.2 1313.0,76.2 1313.5,75.2 1314.0,72.3 1314.5,74.4 1315.0,70.9 1315.5,72.2 1316.0,72.3 1316.5,74.6 1317.0,74.1 1317.5,72.5 1318.0,72.8 1318.5,69.6 1319.0,71.2 1319.5,64.6 1320.0,71.7 1320.5,71.1 1321.0,70.2 1321.5,68.5 1322.0,70.1 1322.5,68.8 1323.0,70.8 1323.5,68.0 1324.0,68.9 1324.5,70.0 1325.0,68.2 1325.5,70.1 1326.0,67.3 1326.5,67.2 1327.0,66.0 1327.5,68.4 1328.0,69.3 1328.5,67.9 1329.0,66.3 1329.5,64.8 1330.0,64.2 1330.5,68.2 1331.0,64.4 1331.5,66.3 1332.0,67.4 1332.5,64.0 1333.0,57.1 1333.5,65.1 1334.0,65.0 1334.5,64.7 1335.0,67.4 1335.5,63.5 1336.0,66.3 1336.5,63.9 1337.0,62.1 1337.5,64.9 1338.0,64.1 1338.5,66.0 1339.0,62.4 1339.5,62.1 1340.0,61.7 1340.5,62.9 1341.0,60.6 1341.5,64.0 1342.0,64.7 1342.5,64.1 1343.0,61.0 1343.5,61.5 1344.0,63.7 1344.5,64.4 1345.0,61.2 1345.5,62.9 1346.0,64.3 1346.5,60.5 1347.0,60.1 1347.5,61.6 1348.0,54.0 1348.5,61.4 1349.0,63.0 1349.5,62.7 1350.0,63.7 1350.5,61.2 1351.0,60.7 1351.5,62.6 1352.0,63.3 1352.5,60.3 1353.0,61.2 1353.5,56.2 1354.0,63.6 1354.5,61.3 1355.0,59.3 1355.5,62.7 1356.0,61.2 1356.5,60.1 1357.0,62.5 1357.5,62.3 1358.0,62.4 1358.5,60.7 1359.0,63.0 1359.5,63.4 1360.0,60.0 1360.5,62.7 1361.0,58.0 1361.5,59.0 1362.0,61.2 1362.5,58.7 1363.0,58.7 1363.5,62.3 1364.0,60.6 1364.5,56.5 1365.0,54.2 1365.5,58.7 1366.0,62.3 1366.5,62.3 1367.0,58.3 1367.5,59.0 1368.0,60.1 1368.5,60.1 1369.0,58.1 1369.5,59.5 1370.0,53.2 1370.5,59.4 1371.0,58.7 1371.5,62.0 1372.0,57.7 1372.5,58.7 1373.0,57.3 1373.5,58.0 1374.0,59.0 1374.5,59.4 1375.0,60.7 1375.5,59.3 1376.0,57.7 1376.5,56.7 1377.0,60.4 1377.5,59.5 1378.0,56.1 1378.5,56.2 1379.0,57.1 1379.5,57.8 1380.0,60.4 1380.5,57.6 1380.5,95.4 1380.0,84.1 1379.5,85.0 1379.0,86.0 1378.5,86.6 1378.0,83.8 1377.5,85.5 1377.0,83.8 1376.5,84.5 1376.0,93.1 1375.5,83.2 1375.0,88.0 1374.5,83.5 1374.0,87.7 1373.5,86.1 1373.0,88.0 1372.5,87.5 1372.0,86.6 1371.5,90.3 1371.0,84.0 1370.5,84.3 1370.0,84.4 1369.5,84.7 1369.0,88.6 1368.5,84.8 1368.0,89.2 1367.5,86.9 1367.0,87.4 1366.5,85.4 1366.0,87.8 1365.5,85.2 1365.0,86.9 1364.5,86.4 1364.0,87.4 1363.5,87.9 1363.0,85.3 1362.5,85.5 1362.0,86.0 1361.5,86.5 1361.0,86.6 1360.5,87.6 1360.0,87.0 1359.5,86.0 1359.0,94.8 1358.5,87.5 1358.0,89.1 1357.5,88.9 1357.0,86.6 1356.5,86.0 1356.0,87.5 1355.5,89.3 1355.0,85.5 1354.5,89.9 1354.0,86.4 1353.5,87.1 1353.0,87.5 1352.5,86.0 1352.0,89.6 1351.5,87.6 1351.0,86.6 1350.5,90.3 1350.0,89.0 1349.5,89.4 1349.0,85.9 1348.5,90.2 1348.0,90.0 1347.5,90.5 1347.0,90.7 1346.5,89.0 1346.0,86.6 1345.5,90.0 1345.0,87.5 1344.5,89.6 1344.0,89.2 1343.5,87.5 1343.0,90.8 1342.5,89.6 1342.0,88.7 1341.5,92.2 1341.0,88.5 1340.5,92.6 1340.0,89.1 1339.5,89.3 1339.0,89.7 1338.5,90.5 1338.0,91.7 1337.5,93.2 1337.0,90.2 1336.5,90.8 1336.0,93.7 1335.5,91.5 1335.0,93.4 1334.5,90.2 1334.0,92.0 1333.5,97.5 1333.0,92.8 1332.5,95.0 1332.0,92.5 1331.5,94.5 1331.0,92.6 1330.5,92.1 1330.0,92.3 1329.5,93.8 1329.0,94.6 1328.5,94.8 1328.0,96.8 1327.5,93.2 1327.0,94.9 1326.5,97.7 1326.0,95.3 1325.5,96.3 1325.0,97.7 1324.5,98.5 1324.0,105.4 1323.5,97.8 1323.0,96.0 1322.5,94.8 1322.0,98.4 1321.5,103.9 1321.0,98.7 1320.5,106.8 1320.0,99.3 1319.5,99.0 1319.0,100.8 1318.5,100.0 1318.0,97.8 1317.5,99.1 1317.0,101.8 1316.5,98.8 1316.0,105.2 1315.5,101.7 1315.0,100.0 1314.5,103.0 1314.0,101.7 1313.5,101.5 1313.0,102.5 1312.5,99.7 1312.0,101.8 1311.5,100.7 1311.0,100.2 1310.5,105.2 1310.0,101.7 1309.5,105.3 1309.0,105.6 1308.5,105.2 1308.0,103.2 1307.5,103.6 1307.0,102.8 1306.5,105.2 1306.0,105.4 1305.5,108.6 1305.0,109.3 1304.5,109.4 1304.0,110.3 1303.5,109.0 1303.0,111.4 1302.5,110.5 1302.0,113.2 1301.5,111.8 1301.0,112.3 1300.5,110.5 1300.0,113.8 1299.5,115.2 1299.0,112.3 1298.5,114.5 1298.0,124.0 1297.5,121.0 1297.0,124.0 1296.5,120.0 1296.0,118.5 1295.5,120.4 1295.0,118.2 1294.5,122.3 1294.0,120.5 1293.5,120.3 1293.0,128.6 1292.5,122.4 1292.0,121.8 1291.5,123.1 1291.0,125.9 1290.5,126.5 1290.0,132.2 1289.5,129.3 1289.0,132.0 1288.5,129.8 1288.0,130.5 1287.5,130.8 1287.0,133.6 1286.5,136.7 1286.0,133.7 1285.5,134.3 1285.0,139.9 1284.5,140.7 1284.0,137.5 1283.5,141.1 1283.0,141.2 1282.5,143.1 1282.0,141.7 1281.5,143.4 1281.0,154.8 1280.5,144.9 1280.0,151.6 1279.5,147.7 1279.0,150.4 1278.5,152.2 1278.0,160.9 1277.5,152.2 1277.0,152.9 1276.5,157.6 1276.0,159.0 1275.5,158.7 1275.0,160.8 1274.5,161.0 1274.0,167.1 1273.5,160.0 1273.0,160.9 1272.5,164.5 1272.0,165.8 1271.5,166.0 1271.0,166.3 1270.5,164.7 1270.0,164.5 1269.5,169.4 1269.0,166.4 1268.5,171.2 1268.0,171.4 1267.5,170.1 1267.0,169.5 1266.5,173.5 1266.0,176.0 1265.5,175.1 1265.0,176.6 1264.5,171.7 1264.0,171.3 1263.5,174.3 1263.0,174.3 1262.5,173.9 1262.0,170.4 1261.5,170.2 1261.0,171.4 1260.5,170.2 1260.0,168.5 1259.5,168.0 1259.0,164.5 1258.5,165.1 1258.0,164.6 1257.5,165.4 1257.0,161.5 1256.5,160.0 1256.0,158.3 1255.5,155.3 1255.0,156.5 1254.5,156.4 1254.0,150.6 1253.5,151.8 1253.0,150.6 1252.5,156.5 1252.0,146.3 1251.5,144.8 1251.0,146.2 1250.5,143.4 1250.0,140.3 1249.5,138.9 1249.0,138.1 1248.5,139.7 1248.0,135.5 1247.5,136.8 1247.0,141.6 1246.5,133.9 1246.0,132.4 1245.5,128.5 1245.0,129.5 1244.5,125.9 1244.0,129.2 1243.5,134.4 1243.0,127.5 1242.5,124.9 1242.0,126.0 1241.5,124.8 1241.0,124.5 1240.5,129.2 1240.0,124.0 1239.5,124.1 1239.0,121.7 1238.5,123.1 1238.0,118.8 1237.5,120.3 1237.0,117.8 1236.5,119.6 1236.0,116.6 1235.5,118.2 1235.0,115.7 1234.5,116.3 1234.0,117.1 1233.5,117.3 1233.0,114.9 1232.5,114.5 1232.0,113.4 1231.5,114.5 1231.0,116.6 1230.5,114.9 1230.0,115.8 1229.5,111.8 1229.0,111.2 1228.5,113.9 1228.0,112.3 1227.5,113.0 1227.0,112.9 1226.5,114.2 1226.0,109.1 1225.5,110.8 1225.0,112.5 1224.5,114.2 1224.0,109.3 1223.5,109.8 1223.0,106.8 1222.5,109.7 1222.0,106.1 1221.5,107.6 1221.0,109.0 1220.5,108.6 1220.0,105.2 1219.5,107.5 1219.0,108.8 1218.5,104.9 1218.0,105.2 1217.5,108.1 1217.0,116.0 1216.5,104.7 1216.0,106.9 1215.5,107.2 1215.0,107.7 1214.5,105.1 1214.0,104.4 1213.5,103.7 1213.0,105.6 1212.5,104.6 1212.0,103.1 1211.5,105.1 1211.0,105.1 1210.5,105.1 1210.0,102.7 1209.5,103.9 1209.0,104.6 1208.5,102.5 1208.0,102.3 1207.5,107.7 1207.0,105.9 1206.5,103.5 1206.0,100.9 1205.5,102.3 1205.0,103.5 1204.5,104.8 1204.0,101.5 1203.5,101.9 1203.0,104.3 1202.5,104.2 1202.0,105.8 1201.5,102.5 1201.0,104.1 1200.5,105.8 1200.0,105.5 1199.5,106.3 1199.0,107.3 1198.5,112.1 1198.0,105.7 1197.5,104.8 1197.0,105.0 1196.5,107.0 1196.0,106.9 1195.5,106.3 1195.0,105.5 1194.5,106.0 1194.0,108.6 1193.5,105.2 1193.0,110.8 1192.5,104.4 1192.0,105.6 1191.5,108.2 1191.0,106.4 1190.5,107.8 1190.0,106.0 1189.5,106.3 1189.0,109.3 1188.5,109.4 1188.0,108.3 1187.5,111.2 1187.0,110.7 1186.5,111.7 1186.0,110.7 1185.5,111.2 1185.0,113.1 1184.5,121.4 1184.0,113.3 1183.5,112.3 1183.0,114.2 1182.5,112.2 1182.0,113.6 1181.5,113.1 1181.0,111.6 1180.5,112.7 1180.0,116.0 1179.5,112.2 1179.0,112.5 1178.5,115.4 1178.0,114.9 1177.5,115.4 1177.0,114.3 1176.5,122.4 1176.0,115.8 1175.5,117.7 1175.0,116.8 1174.5,121.0 1174.0,120.2 1173.5,123.2 1173.0,123.9 1172.5,125.0 1172.0,128.9 1171.5,123.7 1171.0,129.0 1170.5,127.4 1170.0,124.1 1169.5,126.1 1169.0,128.5 1168.5,129.7 1168.0,126.6 1167.5,130.5 1167.0,126.9 1166.5,133.2 1166.0,134.6 1165.5,131.0 1165.0,129.0 1164.5,132.3 1164.0,130.4 1163.5,134.6 1163.0,135.3 1162.5,134.6 1162.0,133.6 1161.5,134.6 1161.0,144.0 1160.5,136.3 1160.0,135.6 1159.5,136.5 1159.0,145.0 1158.5,140.4 1158.0,139.6 1157.5,138.6 1157.0,143.6 1156.5,141.2 1156.0,144.7 1155.5,144.0 1155.0,143.4 1154.5,147.8 1154.0,145.9 1153.5,147.1 1153.0,154.4 1152.5,149.6 1152.0,150.6 1151.5,152.7 1151.0,154.7 1150.5,155.3 1150.0,153.0 1149.5,158.0 1149.0,155.3 1148.5,159.4 1148.0,157.8 1147.5,158.4 1147.0,162.5 1146.5,164.8 1146.0,170.7 1145.5,167.2 1145.0,166.7 1144.5,168.5 1144.0,170.7 1143.5,171.4 1143.0,181.5 1142.5,175.9 1142.0,180.0 1141.5,188.2 1141.0,187.8 1140.5,184.7 1140.0,187.5 1139.5,185.7 1139.0,190.9 1138.5,188.9 1138.0,191.1 1137.5,195.5 1137.0,200.5 1136.5,196.2 1136.0,200.5 1135.5,204.3 1135.0,213.2 1134.5,207.6 1134.0,216.0 1133.5,211.4 1133.0,212.2 1132.5,212.0 1132.0,213.4 1131.5,218.4 1131.0,221.9 1130.5,223.6 1130.0,225.3 1129.5,226.5 1129.0,228.5 1128.5,231.0 1128.0,232.6 1127.5,236.1 1127.0,236.3 1126.5,241.4 1126.0,241.5 1125.5,249.2 1125.0,251.7 1124.5,252.7 1124.0,257.4 1123.5,261.7 1123.0,264.7 1122.5,275.7 1122.0,274.8 1121.5,276.2 1121.0,282.5 1120.5,286.0 1120.0,292.3 1119.5,295.8 1119.0,298.5 1118.5,305.3 1118.0,309.1 1117.5,312.4 1117.0,317.8 1116.5,330.3 1116.0,325.1 1115.5,330.9 1115.0,332.0 1114.5,337.5 1114.0,338.4 1113.5,344.7 1113.0,348.6 1112.5,353.4 1112.0,353.2 1111.5,357.2 1111.0,360.8 1110.5,366.2 1110.0,372.5 1109.5,373.7 1109.0,375.6 1108.5,379.9 1108.0,385.2 1107.5,386.8 1107.0,392.2 1106.5,393.0 1106.0,393.3 1105.5,398.8 1105.0,402.2 1104.5,400.5 1104.0,404.1 1103.5,406.9 1103.0,413.2 1102.5,415.7 1102.0,419.5 1101.5,419.9 1101.0,421.8 1100.5,423.0 1100.0,424.4 1099.5,422.4 1099.0,422.5 1098.5,425.6 1098.0,422.1 1097.5,422.7 1097.0,426.0 1096.5,422.3 1096.0,424.7 1095.5,422.6 1095.0,416.4 1094.5,413.2 1094.0,409.9 1093.5,416.2 1093.0,405.8 1092.5,400.0 1092.0,401.0 1091.5,393.4 1091.0,391.8 1090.5,389.9 1090.0,384.3 1089.5,378.7 1089.0,377.8 1088.5,374.6 1088.0,368.1 1087.5,359.2 1087.0,357.5 1086.5,351.7 1086.0,348.7 1085.5,340.3 1085.0,339.2 1084.5,328.8 1084.0,328.0 1083.5,321.3 1083.0,320.5 1082.5,310.5 1082.0,309.9 1081.5,297.5 1081.0,291.6 1080.5,287.1 1080.0,281.2 1079.5,274.2 1079.0,272.3 1078.5,266.9 1078.0,262.6 1077.5,256.7 1077.0,254.4 1076.5,252.9 1076.0,249.6 1075.5,249.6 1075.0,243.0 1074.5,242.4 1074.0,239.0 1073.5,233.7 1073.0,230.0 1072.5,226.2 1072.0,230.0 1071.5,219.1 1071.0,216.7 1070.5,210.8 1070.0,208.2 1069.5,204.4 1069.0,204.1 1068.5,200.9 1068.0,193.2 1067.5,192.9 1067.0,186.9 1066.5,184.4 1066.0,182.5 1065.5,179.4 1065.0,172.4 1064.5,170.3 1064.0,167.1 1063.5,163.6 1063.0,159.4 1062.5,157.5 1062.0,155.9 1061.5,162.8 1061.0,152.8 1060.5,154.7 1060.0,162.1 1059.5,153.3 1059.0,155.7 1058.5,148.6 1058.0,149.4 1057.5,148.1 1057.0,143.7 1056.5,145.4 1056.0,140.7 1055.5,143.8 1055.0,146.4 1054.5,140.4 1054.0,141.0 1053.5,136.4 1053.0,137.8 1052.5,136.4 1052.0,135.1 1051.5,132.6 1051.0,130.3 1050.5,137.9 1050.0,130.2 1049.5,130.4 1049.0,127.6 1048.5,126.9 1048.0,128.4 1047.5,127.3 1047.0,125.5 1046.5,125.2 1046.0,130.9 1045.5,124.4 1045.0,120.6 1044.5,129.6 1044.0,120.2 1043.5,120.6 1043.0,119.2 1042.5,123.0 1042.0,122.4 1041.5,126.5 1041.0,114.3 1040.5,117.5 1040.0,117.2 1039.5,118.1 1039.0,118.4 1038.5,112.1 1038.0,118.2 1037.5,109.4 1037.0,112.7 1036.5,107.7 1036.0,109.8 1035.5,108.1 1035.0,111.2 1034.5,107.4 1034.0,108.8 1033.5,109.4 1033.0,108.1 1032.5,108.7 1032.0,109.4 1031.5,104.6 1031.0,106.2 1030.5,104.3 1030.0,104.8 1029.5,104.5 1029.0,105.1 1028.5,112.5 1028.0,112.1 1027.5,106.0 1027.0,103.2 1026.5,111.5 1026.0,103.4 1025.5,102.3 1025.0,108.5 1024.5,101.1 1024.0,104.6 1023.5,100.4 1023.0,104.0 1022.5,103.5 1022.0,103.7 1021.5,99.3 1021.0,101.3 1020.5,102.1 1020.0,100.8 1019.5,102.5 1019.0,98.7 1018.5,100.1 1018.0,98.7 1017.5,101.3 1017.0,100.5 1016.5,97.4 1016.0,98.9 1015.5,97.5 1015.0,98.1 1014.5,96.0 1014.0,96.3 1013.5,96.5 1013.0,95.0 1012.5,97.5 1012.0,96.2 1011.5,94.6 1011.0,97.6 1010.5,96.7 1010.0,94.3 1009.5,96.9 1009.0,97.2 1008.5,97.2 1008.0,98.5 1007.5,95.1 1007.0,99.4 1006.5,96.7 1006.0,94.8 1005.5,95.3 1005.0,93.0 1004.5,95.6 1004.0,92.9 1003.5,96.1 1003.0,95.3 1002.5,92.8 1002.0,94.3 1001.5,96.1 1001.0,95.3 1000.5,95.4 1000.0,95.0 999.5,92.0 999.0,92.3 998.5,93.7 998.0,93.7 997.5,93.7 997.0,93.8 996.5,92.7 996.0,92.7 995.5,95.4 995.0,92.4 994.5,95.4 994.0,92.5 993.5,93.4 993.0,96.0 992.5,93.6 992.0,91.9 991.5,93.7 991.0,94.6 990.5,98.0 990.0,100.6 989.5,97.2 989.0,97.1 988.5,97.3 988.0,97.7 987.5,95.2 987.0,97.3 986.5,95.7 986.0,95.3 985.5,98.2 985.0,98.4 984.5,96.9 984.0,98.4 983.5,98.7 983.0,94.6 982.5,95.8 982.0,97.7 981.5,98.1 981.0,98.0 980.5,97.7 980.0,95.5 979.5,96.8 979.0,95.9 978.5,98.5 978.0,99.7 977.5,99.7 977.0,98.7 976.5,100.6 976.0,99.3 975.5,101.8 975.0,100.0 974.5,102.9 974.0,109.0 973.5,105.7 973.0,100.9 972.5,104.3 972.0,104.2 971.5,105.6 971.0,103.3 970.5,105.2 970.0,107.3 969.5,108.6 969.0,108.7 968.5,110.0 968.0,108.9 967.5,107.4 967.0,110.4 966.5,109.1 966.0,119.2 965.5,108.0 965.0,110.3 964.5,108.9 964.0,113.8 963.5,112.9 963.0,115.1 962.5,113.8 962.0,112.1 961.5,114.2 961.0,115.2 960.5,113.5 960.0,116.7 959.5,116.0 959.0,117.7 958.5,115.6 958.0,120.2 957.5,118.1 957.0,119.1 956.5,120.5 956.0,119.4 955.5,122.9 955.0,121.7 954.5,120.4 954.0,121.1 953.5,123.2 953.0,125.9 952.5,129.1 952.0,127.6 951.5,129.6 951.0,127.2 950.5,131.0 950.0,129.2 949.5,132.1 949.0,130.4 948.5,133.2 948.0,136.8 947.5,136.4 947.0,135.1 946.5,136.0 946.0,138.7 945.5,141.0 945.0,140.2 944.5,139.1 944.0,142.2 943.5,144.2 943.0,145.5 942.5,143.8 942.0,147.4 941.5,147.2 941.0,147.4 940.5,152.7 940.0,149.2 939.5,149.7 939.0,150.9 938.5,150.8 938.0,151.6 937.5,153.2 937.0,155.0 936.5,154.4 936.0,155.2 935.5,156.9 935.0,165.9 934.5,157.6 934.0,154.9 933.5,162.8 933.0,157.0 932.5,155.4 932.0,157.9 931.5,153.3 931.0,155.0 930.5,157.4 930.0,157.2 929.5,156.9 929.0,154.1 928.5,154.8 928.0,157.1 927.5,152.3 927.0,154.8 926.5,153.7 926.0,154.1 925.5,158.3 925.0,154.6 924.5,153.0 924.0,151.1 923.5,151.6 923.0,148.7 922.5,146.4 922.0,147.5 921.5,147.4 921.0,147.5 920.5,144.3 920.0,148.4 919.5,140.0 919.0,142.9 918.5,140.6 918.0,139.1 917.5,137.4 917.0,138.7 916.5,135.2 916.0,137.2 915.5,136.3 915.0,129.1 914.5,127.3 914.0,126.8 913.5,123.5 913.0,122.3 912.5,125.8 912.0,121.7 911.5,124.1 911.0,123.9 910.5,120.0 910.0,119.7 909.5,116.3 909.0,115.3 908.5,116.3 908.0,115.4 907.5,110.9 907.0,110.8 906.5,112.7 906.0,114.4 905.5,109.0 905.0,106.4 904.5,108.4 904.0,110.3 903.5,106.9 903.0,104.2 902.5,102.0 902.0,100.5 901.5,101.9 901.0,101.0 900.5,102.0 900.0,99.3 899.5,100.5 899.0,98.8 898.5,96.9 898.0,98.8 897.5,99.6 897.0,100.0 896.5,99.5 896.0,104.3 895.5,98.1 895.0,98.7 894.5,97.5 894.0,95.7 893.5,96.2 893.0,96.2 892.5,95.7 892.0,98.0 891.5,93.8 891.0,95.2 890.5,93.1 890.0,94.6 889.5,101.2 889.0,95.8 888.5,93.2 888.0,94.3 887.5,97.6 887.0,95.3 886.5,94.5 886.0,93.2 885.5,92.5 885.0,90.5 884.5,92.1 884.0,89.4 883.5,93.8 883.0,99.9 882.5,98.0 882.0,91.4 881.5,91.9 881.0,90.1 880.5,93.7 880.0,88.7 879.5,91.7 879.0,89.6 878.5,88.9 878.0,89.6 877.5,91.6 877.0,89.2 876.5,90.8 876.0,94.4 875.5,90.8 875.0,90.7 874.5,89.6 874.0,87.7 873.5,90.5 873.0,87.4 872.5,88.3 872.0,97.9 871.5,86.4 871.0,87.6 870.5,87.0 870.0,89.0 869.5,86.8 869.0,90.2 868.5,85.4 868.0,89.0 867.5,88.5 867.0,98.0 866.5,86.7 866.0,88.1 865.5,85.9 865.0,88.5 864.5,85.7 864.0,87.1 863.5,88.5 863.0,87.8 862.5,87.0 862.0,87.0 861.5,86.8 861.0,86.9 860.5,85.6 860.0,93.3 859.5,86.9 859.0,86.1 858.5,87.9 858.0,88.7 857.5,88.7 857.0,85.3 856.5,86.4 856.0,95.1 855.5,86.1 855.0,84.8 854.5,88.4 854.0,86.1 853.5,86.7 853.0,87.1 852.5,86.8 852.0,87.3 851.5,85.7 851.0,88.2 850.5,87.8 850.0,85.5 849.5,87.2 849.0,84.2 848.5,87.6 848.0,92.6 847.5,87.1 847.0,86.4 846.5,84.5 846.0,85.4 845.5,84.6 845.0,85.8 844.5,85.2 844.0,86.0 843.5,87.2 843.0,86.3 842.5,91.1 842.0,85.3 841.5,85.9 841.0,85.9 840.5,84.2 840.0,86.3 839.5,86.4 839.0,87.6 838.5,83.5 838.0,84.5 837.5,87.3 837.0,83.4 836.5,85.2 836.0,83.3 835.5,83.6 835.0,82.9 834.5,86.3 834.0,85.3 833.5,85.4 833.0,82.8 832.5,91.7 832.0,84.4 831.5,86.2 831.0,84.6 830.5,84.2 830.0,81.8 829.5,83.2 829.0,82.2" fill="#d9232b"/>
<line x1="828.20" y1="30.50" x2="1381.30" y2="30.50" stroke="#231f20" stroke-width="1.6" stroke-linecap="butt"/>
<line x1="1381.30" y1="30.50" x2="1381.30" y2="466.00" stroke="#231f20" stroke-width="1.6" stroke-linecap="butt"/>
<line x1="828.20" y1="29.70" x2="828.20" y2="467.50" stroke="#231f20" stroke-width="2.6" stroke-linecap="butt"/>
<line x1="826.90" y1="466.20" x2="1382.00" y2="466.20" stroke="#231f20" stroke-width="2.8" stroke-linecap="butt"/>
<text transform="translate(760.52,82.15) scale(0.9895,1)" font-family='"Liberation Serif", serif' font-size="39.4" fill="#231f20" stroke="#231f20" stroke-width="0.45">0.4</text>
<text transform="translate(752.42,191.15) scale(0.9895,1)" font-family='"Liberation Serif", serif' font-size="39.4" fill="#231f20" stroke="#231f20" stroke-width="0.45">0.36</text>
<text transform="translate(752.20,305.25) scale(1.0015,1)" font-family='"Liberation Serif", serif' font-size="39.4" fill="#231f20" stroke="#231f20" stroke-width="0.45">0.32</text>
<text transform="translate(753.43,417.25) scale(0.9826,1)" font-family='"Liberation Serif", serif' font-size="39.4" fill="#231f20" stroke="#231f20" stroke-width="0.45">0.28</text>
<text transform="translate(858.36,501.35) scale(0.9957,1)" font-family='"Liberation Serif", serif' font-size="37.3" fill="#231f20" stroke="#231f20" stroke-width="0.45">-80</text>
<text transform="translate(973.67,501.35) scale(0.9830,1)" font-family='"Liberation Serif", serif' font-size="37.3" fill="#231f20" stroke="#231f20" stroke-width="0.45">-40</text>
<text transform="translate(1105.04,501.35) scale(1.0413,1)" font-family='"Liberation Serif", serif' font-size="37.3" fill="#231f20" stroke="#231f20" stroke-width="0.45">0</text>
<text transform="translate(1208.14,501.35) scale(1.0071,1)" font-family='"Liberation Serif", serif' font-size="37.3" fill="#231f20" stroke="#231f20" stroke-width="0.45">40</text>
<text transform="translate(1323.61,501.35) scale(0.9913,1)" font-family='"Liberation Serif", serif' font-size="37.3" fill="#231f20" stroke="#231f20" stroke-width="0.45">80</text>
<text transform="translate(912.05,539.75) scale(0.9962,1)" font-family='"Liberation Serif", serif' font-size="45.3" fill="#231f20" stroke="#231f20" stroke-width="0.45">Frequency offset (MHz)</text>
<text transform="translate(746.10,369.26) rotate(-90) scale(1.0072,1)" font-family='"Liberation Serif", serif' font-size="46" fill="#231f20" stroke="#231f20" stroke-width="0.45">Transmission</text>
<line x1="934.40" y1="143.80" x2="934.40" y2="210.00" stroke="#231f20" stroke-width="1.3" stroke-dasharray="5.5 4.5" stroke-linecap="butt"/>
<line x1="1099.70" y1="160.40" x2="1099.70" y2="424.00" stroke="#231f20" stroke-width="1.3" stroke-dasharray="5.8 5.8" stroke-linecap="butt"/>
<line x1="944.00" y1="197.80" x2="1088.00" y2="197.80" stroke="#231f20" stroke-width="1.6" stroke-dasharray="8 9" stroke-linecap="butt"/>
<polygon points="936.70,197.80 943.20,189.30 943.20,206.30" fill="#231f20"/>
<polygon points="1095.90,197.80 1089.40,206.30 1089.40,189.30" fill="#231f20"/>
<text x="939.10" y="227.70" font-family='"Liberation Serif", serif' font-size="36.9" fill="#231f20" stroke="#231f20" stroke-width="0.45">60 MHz</text>
<line x1="1085.00" y1="262.80" x2="1116.00" y2="262.80" stroke="#231f20" stroke-width="1.6" stroke-linecap="butt"/>
<polygon points="1079.80,262.80 1085.80,253.80 1085.80,271.80" fill="#231f20"/>
<polygon points="1122.10,262.80 1116.10,271.80 1116.10,253.80" fill="#231f20"/>
<line x1="978.70" y1="320.40" x2="1060.00" y2="272.00" stroke="#231f20" stroke-width="1.6" stroke-dasharray="8.4 7" stroke-linecap="butt"/>
<polygon points="1061.5,262.6 1075.9,262.4 1068.7,274" fill="#231f20"/>
<text x="905.35" y="347.75" font-family='"Liberation Serif", serif' font-size="36.55" fill="#231f20" stroke="#231f20" stroke-width="0.45">12.7 MHz</text>
<text x="-1.95" y="670.50" font-family='"Liberation Serif", serif' font-size="64.6" font-weight="bold" fill="#231f20" stroke="#231f20" stroke-width="0">c</text>
<polyline points="135.00,784.60 135.50,784.72 136.00,784.85 136.50,784.98 137.00,785.11 137.50,785.24 138.00,787.16 138.50,787.29 139.00,787.42 139.50,787.55 140.00,787.68 140.50,787.80 141.00,787.93 141.50,788.06 142.00,788.19 142.50,788.32 143.00,788.44 143.50,788.46 144.00,788.31 144.50,788.16 145.00,788.01 145.50,787.87 146.00,783.32 146.50,783.17 147.00,783.02 147.50,782.87 148.00,782.72 148.50,782.57 149.00,782.42 149.50,782.27 150.00,783.00 150.50,782.85 151.00,782.71 151.50,782.56 152.00,785.98 152.50,785.83 153.00,785.68 153.50,785.53 154.00,785.38 154.50,785.23 155.00,785.09 155.50,784.94 156.00,784.79 156.50,784.64 157.00,784.51 157.50,784.38 158.00,784.26 158.50,784.13 159.00,781.53 159.50,781.41 160.00,781.29 160.50,781.16 161.00,781.04 161.50,780.92 162.00,780.79 162.50,780.67 163.00,780.54 163.50,780.42 164.00,780.30 164.50,780.17 165.00,780.05 165.50,779.93 166.00,779.80 166.50,779.68 167.00,779.56 167.50,779.43 168.00,779.31 168.50,779.19 169.00,779.06 169.50,778.94 170.00,778.82 170.50,778.72 171.00,778.62 171.50,778.52 172.00,778.42 172.50,778.32 173.00,778.22 173.50,778.12 174.00,778.02 174.50,777.92 175.00,777.82 175.50,777.72 176.00,777.62 176.50,777.52 177.00,777.42 177.50,780.06 178.00,779.96 178.50,779.86 179.00,779.76 179.50,779.66 180.00,776.74 180.50,775.24 181.00,775.14 181.50,775.04 182.00,774.94 182.50,774.84 183.00,774.74 183.50,774.64 184.00,774.52 184.50,774.40 185.00,774.27 185.50,774.15 186.00,774.03 186.50,773.91 187.00,773.78 187.50,773.66 188.00,777.07 188.50,776.95 189.00,776.83 189.50,776.70 190.00,776.58 190.50,775.76 191.00,775.64 191.50,775.52 192.00,775.40 192.50,775.28 193.00,775.16 193.50,775.04 194.00,774.92 194.50,774.80 195.00,774.68 195.50,774.56 196.00,774.44 196.50,774.32 197.00,774.15 197.50,773.96 198.00,773.76 198.50,773.56 199.00,773.37 199.50,773.17 200.00,772.98 200.50,772.78 201.00,772.59 201.50,772.39 202.00,772.20 202.50,772.01 203.00,770.70 203.50,770.55 204.00,770.54 204.50,770.53 205.00,770.53 205.50,770.52 206.00,770.52 206.50,770.51 207.00,770.51 207.50,770.51 208.00,770.51 208.50,770.51 209.00,769.30 209.50,769.30 210.00,769.31 210.50,769.31 211.00,769.32 211.50,769.33 212.00,769.35 212.50,769.37 213.00,769.39 213.50,769.41 214.00,769.44 214.50,769.48 215.00,769.52 215.50,769.56 216.00,770.73 216.50,770.80 216.55,770.80 216.60,770.81 216.65,770.82 216.70,770.82 216.75,770.83 216.80,770.84 216.85,770.85 216.90,770.86 216.95,768.73 217.00,769.98 217.00,769.98 217.05,769.99 217.10,770.00 217.15,771.90 217.20,771.91 217.25,771.92 217.30,770.36 217.35,770.37 217.40,770.38 217.45,770.38 217.50,770.39 217.50,770.39 217.55,770.40 217.60,770.41 217.65,773.17 217.70,773.18 217.75,773.19 217.80,770.61 217.85,770.62 217.90,770.63 217.95,770.64 218.00,770.65 218.00,770.65 218.05,770.67 218.10,770.68 218.15,770.69 218.20,770.70 218.25,770.71 218.30,770.73 218.35,770.74 218.40,770.75 218.45,770.76 218.50,770.78 218.50,770.78 218.55,770.79 218.60,770.80 218.65,770.82 218.70,770.83 218.75,770.85 218.80,770.86 218.85,770.88 218.90,770.89 218.95,772.65 219.00,772.67 219.00,772.67 219.05,772.68 219.10,772.70 219.15,772.72 219.20,772.73 219.25,772.75 219.30,772.77 219.35,772.79 219.40,772.80 219.45,772.82 219.50,772.84 219.50,772.84 219.55,772.86 219.60,772.88 219.65,772.90 219.70,772.92 219.75,772.94 219.80,772.96 219.85,772.98 219.90,773.00 219.95,773.02 220.00,773.05 220.00,773.05 220.05,773.07 220.10,773.09 220.15,773.12 220.20,773.14 220.25,773.16 220.30,773.19 220.35,773.22 220.40,773.24 220.45,773.27 220.50,773.30 220.50,773.30 220.55,773.32 220.60,773.35 220.65,773.38 220.70,773.41 220.75,773.44 220.80,773.47 220.85,773.50 220.90,773.53 220.95,773.56 221.00,773.60 221.00,772.86 221.05,772.89 221.10,772.93 221.15,772.96 221.20,773.00 221.25,773.03 221.30,773.07 221.35,773.11 221.40,773.15 221.45,773.19 221.50,773.23 221.50,773.23 221.55,773.27 221.60,773.32 221.65,773.36 221.70,773.40 221.75,773.45 221.80,773.50 221.85,773.55 221.90,773.59 221.95,773.64 222.00,773.70 222.00,773.70 222.05,773.75 222.10,773.80 222.15,775.68 222.20,775.74 222.25,775.80 222.30,775.86 222.35,775.92 222.40,775.98 222.45,776.04 222.50,776.11 222.50,776.11 222.55,776.17 222.60,776.24 222.65,776.31 222.70,776.39 222.75,776.46 222.80,776.54 222.85,776.62 222.90,776.70 222.95,776.78 223.00,776.86 223.00,776.86 223.05,776.95 223.10,777.04 223.15,777.13 223.20,777.23 223.25,777.33 223.30,777.43 223.35,777.53 223.40,777.64 223.45,775.66 223.50,774.88 223.50,774.88 223.55,774.99 223.60,775.10 223.65,779.04 223.70,779.16 223.75,779.28 223.80,779.41 223.85,779.55 223.90,779.68 223.95,779.83 224.00,777.22 224.00,777.22 224.05,777.37 224.10,777.53 224.15,777.70 224.20,777.86 224.25,778.04 224.30,778.22 224.35,778.41 224.40,778.61 224.45,778.81 224.50,779.02 224.50,779.02 224.55,779.24 224.60,779.47 224.65,779.70 224.70,779.95 224.75,780.20 224.80,780.46 224.85,780.74 224.90,781.03 224.95,781.33 225.00,781.64 225.00,781.64 225.05,781.96 225.10,782.30 225.15,782.65 225.20,781.97 225.25,782.35 225.30,782.31 225.35,782.73 225.40,783.17 225.45,783.63 225.50,784.11 225.50,784.11 225.55,784.67 225.60,785.25 225.65,785.85 225.70,786.49 225.75,787.15 225.80,787.85 225.85,788.58 225.90,789.34" fill="none" stroke="#e0263f" stroke-width="5.6" stroke-linejoin="round" stroke-linejoin="round" stroke-linecap="round"/>
<polyline points="225.90,789.34 225.95,790.15 226.00,790.99 226.00,790.99 226.05,791.88 226.10,792.82 226.15,793.81 226.20,794.86 226.25,795.96 226.30,797.13 226.35,798.36 226.40,799.68 226.45,801.07 226.50,802.55 226.50,802.55 226.55,804.12 226.60,805.79 226.65,807.58 226.70,809.49 226.75,811.53 226.80,813.71 226.85,816.04 226.90,818.55 226.95,821.24 227.00,824.14 227.00,824.14 227.05,827.21 227.10,830.52 227.15,834.10 227.20,837.98 227.25,842.17 227.30,846.71 227.35,851.64 227.40,856.98 227.45,862.78 227.50,869.08 227.50,869.08 227.55,875.91 227.60,883.32 227.65,891.35 227.70,900.03 227.75,909.39 227.80,919.45 227.85,930.21 227.90,941.65 227.95,953.72 228.00,966.31 228.00,966.31 228.05,979.28 228.10,992.43 228.15,1005.48 228.20,1018.09 228.25,1029.86 228.30,1040.35 228.35,1049.11 228.40,1055.72 228.45,1059.84 228.50,1061.24 228.50,1061.24 228.55,1059.83 228.60,1055.69 228.65,1049.07 228.70,1040.29 228.75,1029.78 228.80,1018.00 228.85,1005.37 228.90,992.31 228.95,979.15 229.00,966.16 229.00,966.16 229.05,953.55 229.10,941.47 229.15,930.02 229.20,919.24 229.25,909.17 229.30,899.79 229.35,891.09 229.40,883.05 229.45,875.63 229.50,868.78 229.50,868.78 229.55,862.47 229.60,856.65 229.65,851.29 229.70,846.35 229.75,841.79 229.80,837.58 229.85,833.70 229.90,830.10 229.95,826.77 230.00,823.69 230.00,823.69 230.05,820.81 230.10,818.13 230.15,815.63 230.20,813.31 230.25,811.14 230.30,809.12 230.35,807.22 230.40,805.45 230.45,803.79 230.50,802.23 230.50,802.23 230.55,800.77 230.60,799.39 230.65,798.09 230.70,796.87 230.75,795.71 230.80,794.62 230.85,793.59 230.90,792.62 230.95,792.91 231.00,792.09 231.00,792.09 231.05,791.13 231.10,790.39" fill="none" stroke="#e0263f" stroke-width="2.6" stroke-linejoin="round" stroke-linejoin="round" stroke-linecap="round"/>
<polyline points="231.10,790.39 231.15,789.70 231.20,789.04 231.25,788.41 231.30,787.81 231.35,787.25 231.40,786.71 231.45,786.20 231.50,785.71 231.50,785.71 231.55,785.22 231.60,784.74 231.65,784.28 231.70,782.39 231.75,781.98 231.80,781.58 231.85,781.19 231.90,780.83 231.95,780.47 232.00,780.13 232.00,780.13 232.05,779.81 232.10,779.49 232.15,779.19 232.20,778.90 232.25,778.62 232.30,778.35 232.35,778.09 232.40,777.84 232.45,777.60 232.50,777.37 232.50,777.37 232.55,777.14 232.60,776.92 232.65,776.71 232.70,776.51 232.75,776.31 232.80,776.12 232.85,774.60 232.90,774.42 232.95,774.25 233.00,775.61 233.00,775.61 233.05,775.45 233.10,775.29 233.15,775.14 233.20,774.99 233.25,774.85 233.30,774.71 233.35,774.57 233.40,774.44 233.45,774.31 233.50,774.18 233.50,774.18 233.55,775.21 233.60,775.09 233.65,774.97 233.70,774.86 233.75,774.75 233.80,774.64 233.85,774.54 233.90,774.44 233.95,775.28 234.00,775.18 234.00,775.18 234.05,775.09 234.10,775.00 234.15,774.91 234.20,774.82 234.25,774.73 234.30,774.65 234.35,774.57 234.40,774.49 234.45,773.81 234.50,773.73 234.50,773.73 234.55,773.66 234.60,773.59 234.65,773.51 234.70,773.44 234.75,773.38 234.80,773.31 234.85,773.24 234.90,773.18 234.95,773.12 235.00,773.05 235.00,773.05 235.05,772.99 235.10,772.93 235.15,772.87 235.20,773.17 235.25,773.11 235.30,773.06 235.35,773.00 235.40,772.95 235.45,772.90 235.50,772.85 235.50,772.85 235.55,772.80 235.60,772.75 235.65,772.70 235.70,772.65 235.75,772.60 235.80,772.56 235.85,771.19 235.90,771.14 235.95,771.10 236.00,771.06 236.00,771.06 236.05,771.01 236.10,770.97 236.15,770.93 236.20,770.89 236.25,770.85 236.30,770.81 236.35,770.77 236.40,770.73 236.45,770.70 236.50,770.66 236.50,770.66 236.55,770.62 236.60,770.59 236.65,772.86 236.70,772.83 236.75,772.78 236.80,772.73 236.85,772.68 236.90,772.63 236.95,772.58 237.00,772.53 237.00,772.53 237.05,772.48 237.10,772.43 237.15,772.38 237.20,772.34 237.25,772.29 237.30,769.46 237.35,769.41 237.40,769.37 237.45,769.32 237.50,769.27 237.50,769.27 237.55,769.23 237.60,769.18 237.65,769.14 237.70,769.10 237.75,769.05 237.80,769.01 237.85,769.69 237.90,769.65 237.95,769.60 238.00,769.15 238.00,769.15 238.05,769.11 238.10,769.07 238.15,769.03 238.20,768.99 238.25,768.95 238.30,768.90 238.35,768.86 238.40,768.82 238.45,768.06 238.50,768.02 238.50,768.02 238.55,767.98 238.60,767.94 238.65,767.90 238.70,767.86 238.75,767.82 238.80,767.79 238.85,767.75 238.90,767.71 238.95,767.67 239.00,767.63 239.00,767.63 239.05,767.60 239.10,767.56 239.15,767.52 239.20,767.48 239.25,767.45 239.30,767.41 239.35,767.37 239.40,767.34 239.45,767.30 239.50,767.27 239.50,767.27 239.55,767.23 239.60,767.19 239.65,767.16 239.70,767.12 239.75,767.09 239.80,767.05 239.85,767.02 239.90,766.98 239.95,766.95 240.00,766.91 240.00,766.91 240.05,766.55 240.10,766.51 240.15,766.48 240.20,766.44 240.25,766.41 240.30,766.37 240.35,766.34 240.40,766.31 240.45,766.27 240.50,766.24 241.00,765.91 241.50,765.59 242.00,765.28 242.50,764.98 243.00,764.68 243.50,764.39 244.00,764.12 244.50,763.86 245.00,766.62 245.50,766.36 246.00,766.10 246.50,765.85 247.00,765.60 247.50,765.35 248.00,765.11 248.50,764.86 249.00,760.95 249.50,760.71 250.00,760.47 250.50,760.23 251.00,759.99 251.50,759.75 252.00,760.15 252.50,759.92 253.00,759.68 253.50,759.44 254.00,759.21 254.50,758.97 255.00,758.74 255.50,758.51 256.00,758.27 256.50,758.04 257.00,757.84 257.50,757.66 258.00,757.47 258.50,757.29 259.00,757.11 259.50,756.93 260.00,756.75 260.50,756.56 261.00,756.38 261.50,756.20 262.00,756.02 262.50,755.84 263.00,755.66 263.50,755.48 264.00,755.30 264.50,755.12 265.00,754.94 265.50,758.05 266.00,757.87 266.50,755.73 267.00,755.55 267.50,755.37 268.00,755.19 268.50,755.02 269.00,754.84 269.50,754.66 270.00,754.48 270.50,754.30 271.00,754.12 271.50,753.94 272.00,753.76 272.50,753.59 273.00,753.41 273.50,753.23 274.00,753.05 274.50,752.87 275.00,752.69 275.50,752.52 276.00,752.34 276.50,752.16 277.00,752.01 277.50,751.92 278.00,751.82 278.50,751.72 279.00,751.62 279.50,752.56 280.00,752.46 280.50,752.36 281.00,752.26 281.50,752.16 282.00,752.06 282.50,751.97 283.00,751.87 283.50,751.77 284.00,751.67 284.50,751.57 285.00,751.47 285.50,751.37 286.00,751.28 286.50,751.18 287.00,751.08 287.50,750.98 288.00,750.88 288.50,748.82 289.00,748.73 289.50,748.63 290.00,748.53 290.50,748.40 291.00,748.27 291.50,748.14 292.00,748.01 292.50,747.88 293.00,747.74 293.50,747.61 294.00,747.48 294.50,747.35 295.00,747.22 295.50,747.08 296.00,746.95 296.50,746.82 297.00,746.69 297.50,747.21 298.00,747.08 298.50,746.95 299.00,746.81 299.50,746.68 300.00,743.83 300.50,743.70 301.00,743.57 301.50,743.43 302.00,743.30 302.50,743.17 303.00,748.03 303.50,747.90 304.00,747.79 304.50,747.68 305.00,743.75 305.50,743.64 306.00,743.52 306.50,743.41 307.00,743.30 307.50,743.19 308.00,742.93 308.50,742.30 309.00,742.18 309.50,742.07 310.00,741.96 310.50,741.85 311.00,741.74 311.50,741.62 312.00,741.51 312.50,741.40 313.00,741.29 313.50,741.18 314.00,741.06 314.50,740.95 315.00,740.84 315.50,740.73 316.00,740.62 316.50,740.50 317.00,740.40 317.50,740.31 318.00,744.51 318.50,740.15 319.00,740.06 319.50,739.98 320.00,739.89 320.50,739.80 321.00,739.71 321.50,743.67 322.00,743.58 322.50,743.49 323.00,743.40 323.50,743.32 324.00,743.23 324.50,743.14 325.00,740.76 325.50,740.68 326.00,740.59 326.50,740.50 327.00,740.41 327.50,740.32 328.00,740.24 328.50,740.15 329.00,740.06 329.50,739.97 330.00,739.88 330.50,742.86 331.00,742.77 331.50,740.00 332.00,739.92 332.50,739.83 333.00,739.81 333.50,739.83 334.00,739.85 334.50,739.88 335.00,739.90 335.50,739.92 336.00,739.95 336.50,739.97 337.00,739.99 337.50,740.02 338.00,740.04 338.50,741.11 339.00,741.13 339.50,741.16 340.00,741.18 340.50,741.20 341.00,739.72 341.50,739.74 342.00,738.78 342.50,740.41 343.00,740.44 343.50,740.46 344.00,740.48 344.50,740.51 345.00,740.53 345.50,740.55 346.00,740.58 346.50,740.60 347.00,740.62 347.50,740.65 348.00,740.67 348.50,740.70 349.00,740.72 349.50,740.74 350.00,740.77 350.50,740.81 351.00,740.84 351.50,742.38 352.00,742.42 352.50,742.46 353.00,742.49 353.50,739.46 354.00,739.50 354.50,739.54 355.00,739.58 355.50,739.62 356.00,739.65 356.50,739.69 357.00,739.73 357.50,739.77 358.00,739.81 358.50,739.85 359.00,739.89 359.50,739.93 360.00,739.97 360.50,740.02 361.00,740.06 361.50,740.10 362.00,740.14 362.50,740.18 363.00,740.22 363.50,740.27 364.00,740.31 364.50,740.36 365.00,740.43 365.50,740.48 366.00,740.52 366.40,740.56 366.45,740.57 366.50,740.57 366.55,740.58 366.60,740.58 366.65,740.59 366.70,740.59 366.75,740.60 366.80,740.60 366.85,740.61 366.90,740.61 366.95,740.62 367.00,740.62 367.00,740.62 367.05,740.63 367.10,740.63 367.15,740.64 367.20,740.64 367.25,740.65 367.30,740.65 367.35,740.87 367.40,740.87 367.45,740.10 367.50,740.10 367.50,740.10 367.55,740.11 367.60,740.11 367.65,740.12 367.70,740.12 367.75,740.13 367.80,740.13 367.85,740.14 367.90,740.15 367.95,740.15 368.00,740.16 368.00,740.16 368.05,740.16 368.10,740.17 368.15,740.17 368.20,740.18 368.25,740.18 368.30,740.19 368.35,740.20 368.40,740.20 368.45,740.21 368.50,740.21 368.50,740.21 368.55,740.22 368.60,740.22 368.65,740.23 368.70,740.24 368.75,740.24 368.80,740.25 368.85,740.25 368.90,740.26 368.95,740.27 369.00,740.27 369.00,740.27 369.05,740.28 369.10,740.28 369.15,740.29 369.20,740.30 369.25,740.30 369.30,744.97 369.35,744.98 369.40,744.99 369.45,744.99 369.50,742.51 369.50,742.51 369.55,742.51 369.60,742.52 369.65,742.52 369.70,742.53 369.75,742.54 369.80,742.55 369.85,742.55 369.90,741.57 369.95,741.58 370.00,741.58 370.00,741.58 370.05,741.59 370.10,741.60 370.15,741.60 370.20,741.61 370.25,741.62 370.30,741.63 370.35,741.63 370.40,741.64 370.45,741.65 370.50,741.66 370.50,741.66 370.55,741.66 370.60,741.67 370.65,741.68 370.70,741.69 370.75,742.93 370.80,742.94 370.85,742.95 370.90,742.95 370.95,742.96 371.00,742.97 371.00,742.97 371.05,742.98 371.10,742.99 371.15,743.00 371.20,743.70 371.25,743.70 371.30,743.71 371.35,743.72 371.40,743.73 371.45,743.74 371.50,743.75 371.50,740.83 371.55,740.84 371.60,740.85 371.65,740.86 371.70,740.87 371.75,740.88 371.80,740.89 371.85,740.90 371.90,740.91 371.95,740.92 372.00,740.93 372.00,740.93 372.05,742.32 372.10,742.33 372.15,742.35 372.20,742.36 372.25,742.37 372.30,742.38 372.35,742.39 372.40,742.41 372.45,742.42 372.50,742.43 372.50,742.43 372.55,742.45 372.60,742.46 372.65,742.47 372.70,742.49 372.75,742.50 372.80,742.52 372.85,742.53 372.90,742.55 372.95,742.56 373.00,742.58 373.00,742.58 373.05,742.59 373.10,745.55 373.15,745.57 373.20,745.58 373.25,745.60 373.30,745.62 373.35,745.64 373.40,745.65 373.45,745.67 373.50,745.69 373.50,745.69 373.55,745.71 373.60,745.73 373.65,745.76 373.70,745.78 373.75,745.80 373.80,745.82 373.85,745.84 373.90,745.87 373.95,745.89 374.00,745.92 374.00,745.92 374.05,745.96 374.10,746.01 374.15,746.05 374.20,746.10 374.25,746.14 374.30,746.19 374.35,746.24 374.40,746.29 374.45,746.34 374.50,746.39 374.50,746.39 374.55,746.44 374.60,746.49 374.65,743.32 374.70,743.37 374.75,743.43 374.80,745.25 374.85,745.31 374.90,745.37 374.95,745.44 375.00,745.50 375.00,745.50 375.05,745.57 375.10,745.64 375.15,745.71 375.20,745.78 375.25,745.86 375.30,745.94 375.35,746.02 375.40,746.10 375.45,746.15 375.50,746.20 375.50,746.20 375.55,746.26 375.60,746.32 375.65,746.38 375.70,746.45 375.75,746.52 375.80,746.59" fill="none" stroke="#e0263f" stroke-width="5.6" stroke-linejoin="round" stroke-linejoin="round" stroke-linecap="round"/>
<polyline points="375.80,746.59 375.85,747.41 375.90,747.46 375.95,747.51 376.00,747.57 376.00,744.89 376.05,745.11 376.10,746.56 376.15,746.72 376.20,746.88 376.25,747.05 376.30,746.63 376.35,746.87 376.40,747.12 376.45,747.38 376.50,748.70 376.50,748.70 376.55,748.85 376.60,749.02 376.65,749.21 376.70,749.41 376.75,749.63 376.80,749.86 376.85,750.12 376.90,750.41 376.95,750.80 377.00,751.21 377.00,751.21 377.05,751.66 377.10,752.14 377.15,752.66 377.20,753.21 377.25,753.80 377.30,754.43 377.35,755.12 377.40,755.85 377.45,756.64 377.50,757.48 377.50,757.48 377.55,758.38 377.60,759.34 377.65,760.36 377.70,761.44 377.75,762.57 377.80,763.76 377.85,764.99 377.90,766.25 377.95,767.53 378.00,768.80 378.00,768.80 378.05,770.05 378.10,771.23 378.15,772.31 378.20,773.27 378.25,774.06 378.30,774.65 378.35,775.03 378.40,775.17 378.45,775.07 378.50,774.74 378.50,774.74 378.55,774.18 378.60,773.43 378.65,772.52 378.70,771.48 378.75,770.34 378.80,769.14 378.85,767.91 378.90,766.68 378.95,765.46 379.00,764.27 379.00,764.27 379.05,763.12 379.10,762.03 379.15,760.99 379.20,760.01 379.25,759.09 379.30,758.23 379.35,757.44 379.40,756.69 379.45,756.00 379.50,755.36 379.50,755.36 379.55,754.77 379.60,754.22 379.65,753.71 379.70,753.24 379.75,752.80 379.80,752.39 379.85,752.02 379.90,751.67 379.95,751.40 380.00,751.15 380.00,751.15 380.05,750.92 380.10,750.71 380.15,750.52 380.20,750.35 380.25,750.19 380.30,750.05 380.35,749.92 380.40,749.80 380.45,749.13 380.50,748.98 380.50,748.98 380.55,748.85 380.60,748.72 380.65,748.60 380.70,748.48 380.75,748.38 380.80,748.28 380.85,748.19 380.90,748.10 380.95,748.02 381.00,747.94" fill="none" stroke="#e0263f" stroke-width="2.6" stroke-linejoin="round" stroke-linejoin="round" stroke-linecap="round"/>
<polyline points="381.00,747.94 381.00,747.94 381.05,747.87 381.10,747.81 381.15,747.74 381.20,747.69 381.25,747.63 381.30,747.58 381.35,747.53 381.40,747.49 381.45,747.45 381.50,747.41 381.50,747.41 381.55,747.37 381.60,747.34 381.65,747.31 381.70,747.28 381.75,747.25 381.80,747.22 381.85,747.20 381.90,747.18 381.95,747.16 382.00,747.14 382.00,747.14 382.05,747.12 382.10,747.11 382.15,747.09 382.20,747.08 382.25,747.07 382.30,747.06 382.35,748.16 382.40,748.15 382.45,748.14 382.50,748.14 382.50,748.14 382.55,748.13 382.60,748.13 382.65,748.13 382.70,748.12 382.75,748.12 382.80,748.12 382.85,748.10 382.90,748.08 382.95,748.06 383.00,748.05 383.00,748.05 383.05,748.03 383.10,748.02 383.15,748.00 383.20,747.99 383.25,747.97 383.30,747.96 383.35,747.94 383.40,747.93 383.45,747.92 383.50,747.91 383.50,747.91 383.55,747.90 383.60,747.88 383.65,747.87 383.70,747.86 383.75,747.85 383.80,747.84 383.85,747.83 383.90,747.83 383.95,747.82 384.00,747.81 384.00,747.81 384.05,747.80 384.10,747.79 384.15,747.78 384.20,747.78 384.25,747.77 384.30,747.76 384.35,747.76 384.40,747.75 384.45,747.74 384.50,747.74 384.50,747.74 384.55,747.73 384.60,747.73 384.65,747.72 384.70,747.71 384.75,747.71 384.80,747.70 384.85,747.70 384.90,747.70 384.95,747.69 385.00,747.69 385.00,747.69 385.05,747.68 385.10,747.68 385.15,747.68 385.20,747.67 385.25,747.67 385.30,747.66 385.35,747.66 385.40,747.66 385.45,747.65 385.50,747.65 385.50,747.65 385.55,747.65 385.60,747.65 385.65,747.64 385.70,747.64 385.75,749.02 385.80,749.02 385.85,749.02 385.90,749.02 385.95,749.01 386.00,749.01 386.00,747.73 386.05,747.73 386.10,747.73 386.15,747.73 386.20,747.72 386.25,747.72 386.30,747.72 386.35,747.72 386.40,747.72 386.45,746.48 386.50,746.48 386.50,746.48 386.55,746.48 386.60,746.48 386.65,746.48 386.70,746.48 386.75,746.48 386.80,746.48 386.85,746.48 386.90,746.48 386.95,746.47 387.00,746.47 387.00,746.47 387.05,746.47 387.10,746.47 387.15,746.47 387.20,746.47 387.25,746.47 387.30,746.47 387.35,746.47 387.40,746.47 387.45,746.47 387.50,746.47 387.50,746.47 387.55,746.47 387.60,746.47 387.65,746.47 387.70,745.37 387.75,745.37 387.80,745.37 387.85,745.37 387.90,745.37 387.95,745.37 388.00,745.37 388.00,745.37 388.05,745.37 388.10,745.37 388.15,744.47 388.20,744.47 388.25,744.47 388.30,744.47 388.35,745.75 388.40,745.75 388.45,745.76 388.50,745.95 388.50,745.95 388.55,745.96 388.60,745.96 388.65,745.96 388.70,745.96 388.75,745.96 388.80,745.96 388.85,745.96 388.90,745.96 388.95,745.96 389.00,744.78 389.00,744.78 389.05,744.78 389.10,744.78 389.15,744.79 389.20,744.79 389.25,744.30 389.30,744.30 389.35,744.30 389.40,744.30 389.45,744.30 389.50,744.30 389.50,744.30 389.55,744.30 389.60,744.31 389.65,744.31 389.70,748.70 389.75,748.70 389.80,748.70 389.85,748.70 389.90,748.70 389.95,748.71 390.00,748.71 390.00,748.71 390.05,748.71 390.10,748.71 390.15,748.71 390.20,748.71 390.25,748.71 390.30,748.71 390.35,748.72 390.50,748.72 391.00,748.74 391.50,748.75 392.00,748.77 392.50,748.79 393.00,748.81 393.50,748.83 394.00,748.85 394.50,748.87 395.00,748.89 395.50,748.60 396.00,748.63 396.50,748.65 397.00,748.67 397.50,748.69 398.00,748.72 398.50,745.36 399.00,745.39 399.50,745.41 400.00,745.44 400.50,745.46 401.00,745.49 401.50,745.51 402.00,745.54 402.50,745.56 403.00,745.59 403.50,745.61 404.00,745.64 404.50,745.67 405.00,746.68 405.50,746.71 406.00,746.74 406.50,746.77 407.00,746.79 407.50,746.96 408.00,747.13 408.50,747.31 409.00,747.48 409.50,747.65 410.00,747.82 410.50,748.00 411.00,748.17 411.50,748.35 412.00,748.53 412.20,748.60 412.25,748.62 412.30,748.63 412.35,748.65 412.40,748.67 412.45,748.69 412.50,748.71 412.50,748.71 412.55,748.72 412.60,750.15 412.65,750.16 412.70,750.18 412.75,750.20 412.80,750.22 412.85,750.24 412.90,747.66 412.95,747.68 413.00,747.69 413.00,747.69 413.05,747.71 413.10,747.73 413.15,747.75 413.20,747.77 413.25,747.79 413.30,747.80 413.35,747.82 413.40,747.84 413.45,747.86 413.50,752.09 413.50,752.09 413.55,752.11 413.60,752.13 413.65,752.15 413.70,752.17 413.75,752.19 413.80,752.21 413.85,752.22 413.90,752.24 413.95,752.26 414.00,749.51 414.00,749.51 414.05,752.47 414.10,752.49 414.15,752.51 414.20,752.53 414.25,752.12 414.30,752.14 414.35,752.16 414.40,752.18 414.45,752.20 414.50,752.22 414.50,752.22 414.55,752.24 414.60,752.25 414.65,752.27 414.70,748.53 414.75,748.55 414.80,748.57 414.85,748.59 414.90,748.61 414.95,748.63 415.00,748.87 415.00,748.87 415.05,748.89 415.10,748.91 415.15,749.76 415.20,749.78 415.25,749.80 415.30,749.82 415.35,749.84 415.40,749.86 415.45,749.88 415.50,749.90 415.50,749.90 415.55,749.92 415.60,749.94 415.65,749.96 415.70,749.98 415.75,750.00 415.80,750.02 415.85,750.04 415.90,750.06 415.95,750.08 416.00,750.10 416.00,750.10 416.05,750.12 416.10,750.14 416.15,750.16 416.20,750.19 416.25,750.21 416.30,750.23 416.35,750.25 416.40,750.27 416.45,750.29 416.50,750.31 416.50,750.31 416.55,750.34 416.60,750.36 416.65,750.38 416.70,750.40 416.75,750.42 416.80,750.45 416.85,750.47 416.90,750.49 416.95,750.51 417.00,750.54 417.00,750.54 417.05,749.38 417.10,749.40 417.15,749.42 417.20,749.45 417.25,749.47 417.30,749.49 417.35,749.52 417.40,749.54 417.45,749.57 417.50,749.59 417.50,749.59 417.55,749.61 417.60,749.64 417.65,749.66 417.70,749.69 417.75,749.71 417.80,751.12 417.85,754.00 417.90,750.47 417.95,750.49 418.00,751.49 418.00,751.49 418.05,751.52 418.10,751.54 418.15,751.57 418.20,751.60 418.25,751.63 418.30,751.65 418.35,751.68 418.40,751.71 418.45,751.74 418.50,751.77 418.50,751.77 418.55,751.80 418.60,751.83 418.65,751.86 418.70,751.89 418.75,751.92 418.80,751.95 418.85,751.98 418.90,752.01 418.95,752.05 419.00,752.08 419.00,752.08 419.05,751.23 419.10,751.27 419.15,751.30 419.20,751.34 419.25,751.37 419.30,751.14 419.35,751.18 419.40,751.22 419.45,751.25 419.50,751.29 419.50,751.29 419.55,751.33 419.60,751.37 419.65,751.41 419.70,751.45 419.75,751.49 419.80,751.54 419.85,751.58 419.90,751.63 419.95,751.67 420.00,751.72 420.00,751.72 420.05,751.77 420.10,751.81 420.15,751.86 420.20,751.92 420.25,751.97 420.30,752.02 420.35,752.08 420.40,752.13 420.45,752.19 420.50,752.25 420.50,752.25 420.55,752.31 420.60,752.37 420.65,752.44 420.70,752.51 420.75,752.58 420.80,752.65 420.85,752.72 420.90,752.80 420.95,752.87 421.00,752.95 421.00,752.95 421.05,753.04 421.10,753.12 421.15,756.84 421.20,756.93 421.25,756.95 421.30,756.96 421.35,756.99 421.40,757.01 421.45,757.04 421.50,757.08 421.50,757.08 421.55,757.12 421.60,757.17" fill="none" stroke="#e0263f" stroke-width="5.6" stroke-linejoin="round" stroke-linejoin="round" stroke-linecap="round"/>
<polyline points="421.60,757.17 421.65,757.22 421.70,757.28 421.75,757.34 421.80,757.42 421.85,757.50 421.90,757.59 421.95,757.68 422.00,757.79 422.00,757.79 422.05,757.91 422.10,758.04 422.15,758.18 422.20,758.33 422.25,758.50 422.30,758.68 422.35,758.88 422.40,759.10 422.45,759.33 422.50,759.58 422.50,759.58 422.55,759.86 422.60,760.12 422.65,760.47 422.70,760.85 422.75,761.31 422.80,761.82 422.85,762.36 422.90,762.93 422.95,763.55 423.00,764.22 423.00,764.22 423.05,764.94 423.10,765.71 423.15,766.54 423.20,767.42 423.25,768.38 423.30,769.40 423.35,770.49 423.40,771.66 423.45,772.90 423.50,774.22 423.50,774.22 423.55,775.60 423.60,777.05 423.65,778.55 423.70,780.09 423.75,781.64 423.80,783.19 423.85,784.71 423.90,786.14 423.95,787.46 424.00,788.63 424.00,788.63 424.05,789.59 424.10,790.31 424.15,790.76 424.20,790.93 424.25,790.80 424.30,790.38 424.35,789.69 424.40,788.76 424.45,787.63 424.50,786.34 424.50,786.34 424.55,784.94 424.60,783.46 424.65,781.94 424.70,780.42 424.75,778.91 424.80,777.45 424.85,776.03 424.90,774.68 424.95,773.40 425.00,772.19 425.00,772.19 425.05,771.06 425.10,770.00 425.15,769.01 425.20,768.09 425.25,767.23 425.30,766.44 425.35,765.70 425.40,765.02 425.45,764.38 425.50,763.80 425.50,763.80 425.55,763.25 425.60,762.74 425.65,762.28 425.70,761.84 425.75,761.39 425.80,760.98 425.85,760.59 425.90,760.22 425.95,759.88 426.00,759.56 426.00,759.56 426.05,759.25 426.10,758.97 426.15,758.70 426.20,758.44 426.25,758.20 426.30,757.97 426.35,757.75 426.40,757.55 426.45,757.35 426.50,757.17 426.50,757.17 426.55,756.99 426.60,756.82 426.65,756.66 426.70,756.51 426.75,756.36 426.80,756.22" fill="none" stroke="#e0263f" stroke-width="2.6" stroke-linejoin="round" stroke-linejoin="round" stroke-linecap="round"/>
<polyline points="426.80,756.22 426.85,756.08 426.90,756.76 426.95,756.65 427.00,756.55 427.00,756.55 427.05,756.46 427.10,756.37 427.15,756.28 427.20,756.20 427.25,756.12 427.30,756.05 427.35,755.99 427.40,755.92 427.45,755.86 427.50,755.80 427.50,755.80 427.55,755.75 427.60,755.69 427.65,754.34 427.70,754.29 427.75,754.25 427.80,754.20 427.85,754.50 427.90,754.45 427.95,754.41 428.00,754.38 428.00,754.38 428.05,754.34 428.10,754.30 428.15,754.27 428.20,753.86 428.25,753.83 428.30,753.80 428.35,753.77 428.40,753.74 428.45,753.72 428.50,753.69 428.50,753.69 428.55,753.66 428.60,753.64 428.65,753.62 428.70,753.59 428.75,753.57 428.80,753.55 428.85,757.28 428.90,757.26 428.95,757.24 429.00,757.22 429.00,757.22 429.05,757.21 429.10,757.19 429.15,757.17 429.20,757.16 429.25,757.14 429.30,757.13 429.35,757.11 429.40,757.10 429.45,757.09 429.50,757.07 429.50,757.07 429.55,757.06 429.60,757.59 429.65,757.58 429.70,757.57 429.75,757.56 429.80,757.55 429.85,757.54 429.90,757.53 429.95,756.62 430.00,756.61 430.00,756.61 430.05,756.60 430.10,756.60 430.15,756.59 430.20,756.58 430.25,756.57 430.30,756.28 430.35,756.27 430.40,752.25 430.45,752.24 430.50,752.24 430.50,752.24 430.55,752.23 430.60,752.23 430.65,752.22 430.70,752.21 430.75,752.21 430.80,752.20 430.85,752.20 430.90,752.19 430.95,752.19 431.00,752.19 431.00,752.19 431.05,752.18 431.10,752.18 431.15,752.17 431.20,752.17 431.25,752.17 431.30,752.16 431.35,752.16 431.40,752.15 431.45,752.15 431.50,752.15 431.50,752.15 431.55,752.15 431.60,752.14 431.65,752.14 431.70,752.14 431.75,752.14 431.80,756.83 431.85,756.83 431.90,756.83 431.95,756.83 432.00,756.82 432.00,756.82 432.05,756.82 432.10,756.82 432.15,756.82 432.20,756.82 432.25,756.82 432.30,756.46 432.35,756.46 432.40,755.90 432.45,755.90 432.50,755.90 432.50,755.90 432.55,755.90 432.60,755.89 432.65,755.89 432.70,755.89 432.75,755.89 432.80,755.89 432.85,752.39 432.90,752.39 432.95,752.39 433.00,752.39 433.00,752.39 433.05,752.39 433.10,752.39 433.15,752.39 433.20,752.39 433.25,752.39 433.30,752.39 433.35,752.39 433.40,752.39 433.45,752.21 433.50,752.21 433.50,752.21 433.55,752.21 433.60,752.21 433.65,752.21 433.70,752.21 433.75,752.21 433.80,752.21 433.85,752.21 433.90,752.21 433.95,752.21 434.00,752.21 434.00,752.21 434.05,752.21 434.10,752.21 434.15,752.21 434.20,752.21 434.25,752.22 434.30,752.22 434.35,752.22 434.40,752.22 434.45,752.22 434.50,752.22 434.50,752.22 434.55,752.22 434.60,752.22 434.65,752.22 434.70,752.22 434.75,752.22 434.80,752.23 434.85,752.23 434.90,752.23 434.95,752.23 435.00,752.23 435.00,752.23 435.05,752.23 435.10,752.23 435.15,752.23 435.20,752.23 435.25,752.24 435.30,752.24 435.35,752.24 435.40,752.24 435.45,752.24 435.50,752.24 435.50,752.24 435.55,752.24 435.60,752.25 435.65,752.25 435.70,752.25 435.75,752.25 435.80,752.25 435.85,752.25 435.90,752.26 435.95,752.26 436.00,752.26 436.00,752.26 436.05,752.26 436.10,752.26 436.15,752.26 436.50,752.28 437.00,752.30 437.50,752.32 438.00,752.34 438.50,752.36 439.00,752.38 439.50,752.41 440.00,752.43 440.50,752.46 441.00,752.48 441.50,752.51 442.00,752.54 442.50,752.56 443.00,752.59 443.50,752.62 444.00,752.65 444.50,752.68 445.00,752.86 445.50,753.04 446.00,753.23 446.50,755.62 447.00,755.81 447.50,754.94 448.00,755.12 448.50,755.31 449.00,755.49 449.50,755.68 450.00,755.87 450.50,756.05 451.00,756.24 451.50,756.42 452.00,756.61 452.50,756.80 453.00,756.98 453.50,760.57 454.00,760.75 454.50,760.94 455.00,761.13 455.50,761.31 456.00,761.50 456.50,761.69 457.00,761.88 457.50,762.06 458.00,762.25 458.50,758.82 459.00,759.01 459.50,761.84 460.00,762.03 460.50,762.21 461.00,762.40 461.50,762.59 462.00,762.78 462.50,762.89 463.00,762.99 463.50,763.09 464.00,763.19 464.50,763.29 465.00,763.39 465.50,763.49 466.00,763.59 466.50,763.69 467.00,763.79 467.50,763.89 468.00,763.99 468.50,764.09 469.00,764.19 469.50,764.29 470.00,764.39 470.50,764.49 471.00,764.59 471.50,762.76 472.00,762.86 472.50,762.96 473.00,763.06 473.50,763.16 474.00,763.26 474.50,763.36 475.00,763.46 475.50,763.56 476.00,765.24 476.50,765.34 477.00,765.44 477.50,765.54 478.00,765.64 478.50,765.74 479.00,765.84 479.50,765.94 480.00,766.04 480.50,765.41 481.00,765.51 481.50,765.61 482.00,765.71 482.50,765.81 483.00,765.91 483.50,766.01 484.00,766.11 484.50,766.23 485.00,766.35 485.50,766.48 486.00,766.60 486.50,766.73 487.00,766.85 487.50,766.98 488.00,767.11 488.50,767.23 489.00,767.36 489.50,767.48 490.00,768.73 490.50,768.86 491.00,768.98 491.50,769.11 492.00,766.37 492.50,766.50 493.00,766.62 493.50,766.75 494.00,766.87 494.50,767.00 495.00,767.13 495.50,767.25 496.00,767.38 496.50,767.50 497.00,767.63 497.50,767.75 498.00,767.88 498.50,768.01 499.00,768.13 499.50,768.26 500.00,772.28 500.50,772.41 501.00,772.53 501.50,772.66 502.00,772.78 502.50,772.91 503.00,773.04 503.50,773.16 504.00,773.29 504.50,773.41 505.00,773.54 505.50,773.67 506.00,773.79 506.50,773.88 507.00,773.95 507.50,774.03 508.00,769.03 508.50,769.11 509.00,769.19 509.50,769.26 510.00,769.34 510.50,769.41 511.00,769.49 511.50,769.57 512.00,769.64 512.50,769.72 513.00,769.80 513.50,771.30 514.00,771.37 514.50,771.45 515.00,771.53 515.50,771.60 516.00,771.20 516.50,771.28 517.00,771.36 517.50,771.43 518.00,771.51 518.50,771.59 519.00,771.67 519.50,771.74 520.00,771.82 520.50,771.90 521.00,771.98 521.50,775.00 522.00,775.07 522.50,775.15 523.00,775.23 523.50,775.31 524.00,773.09 524.50,773.17 525.00,773.25 525.50,773.33 526.00,773.41 526.50,773.49 527.00,773.57 527.50,773.65 528.00,773.73 528.50,773.83 529.00,773.93 529.50,774.04 530.00,774.15 530.50,774.26 531.00,774.36 531.50,774.47 532.00,774.58 532.50,774.69 533.00,774.80 533.50,777.55 534.00,777.66 534.50,777.77 535.00,777.88 535.50,778.00 536.00,778.11 536.50,778.23 537.00,778.34 537.50,778.46 538.00,778.58 538.50,778.70 539.00,778.83 539.50,778.95 540.00,779.08 540.50,779.21 541.00,779.34 541.50,779.48 542.00,779.62 542.50,779.76 543.00,779.91 543.50,780.06 544.00,780.22 544.50,780.39 545.00,780.56 545.50,780.75 545.60,780.79 545.65,780.80 545.70,780.82 545.75,780.84 545.80,780.86 545.85,780.88 545.90,780.90 545.95,780.92 546.00,780.94 546.00,780.94 546.05,780.96 546.10,780.98 546.15,781.00 546.20,781.02 546.25,781.04 546.30,781.07 546.35,781.09 546.40,781.11 546.45,781.13 546.50,781.15 546.50,781.15 546.55,781.17 546.60,781.19 546.65,781.22 546.70,781.24 546.75,781.26 546.80,781.28 546.85,781.30 546.90,781.33 546.95,781.35 547.00,781.37 547.00,781.37 547.05,781.40 547.10,781.42 547.15,781.44 547.20,781.47 547.25,781.49 547.30,781.52 547.35,781.54 547.40,781.57 547.45,781.59 547.50,781.62 547.50,781.62 547.55,781.64 547.60,781.67 547.65,782.54 547.70,782.56 547.75,782.59 547.80,781.86 547.85,781.88 547.90,781.91 547.95,781.94 548.00,781.97 548.00,781.97 548.05,781.99 548.10,782.02 548.15,782.05 548.20,782.08 548.25,782.66 548.30,782.69 548.35,782.72 548.40,782.75 548.45,782.78 548.50,782.81 548.50,782.81 548.55,782.84 548.60,782.87 548.65,782.90 548.70,782.94 548.75,782.97 548.80,780.28 548.85,780.31 548.90,780.34 548.95,780.38 549.00,780.41 549.00,780.41 549.05,780.45 549.10,780.48 549.15,780.52 549.20,780.56 549.25,780.59 549.30,780.63 549.35,783.85 549.40,783.89 549.45,783.92 549.50,783.96 549.50,783.96 549.55,784.00 549.60,784.04 549.65,784.08 549.70,784.13 549.75,784.17 549.80,784.21 549.85,784.25 549.90,784.30 549.95,784.34 550.00,784.39 550.00,784.39 550.05,784.43 550.10,784.48 550.15,779.78 550.20,779.82 550.25,779.84 550.30,779.85 550.35,779.87 550.40,784.25 550.45,784.26 550.50,784.28 550.50,784.28 550.55,784.30 550.60,784.32 550.65,784.34 550.70,784.36 550.75,784.39 550.80,784.41 550.85,780.54 550.90,780.57 550.95,780.59 551.00,780.62 551.00,780.62 551.05,780.65 551.10,780.68 551.15,780.72 551.20,780.75 551.25,780.78 551.30,780.82 551.35,780.86 551.40,780.90 551.45,780.94 551.50,780.98 551.50,780.98 551.55,781.03 551.60,781.07 551.65,781.12 551.70,781.17 551.75,781.22 551.80,781.27 551.85,781.33 551.90,781.39 551.95,781.45 552.00,781.51 552.00,781.51 552.05,781.57 552.10,781.64 552.15,781.71 552.20,781.78 552.25,781.85 552.30,781.93 552.35,782.01 552.40,782.09 552.45,782.18 552.50,782.27 552.50,782.27 552.55,782.36 552.60,782.46 552.65,782.56 552.70,782.66 552.75,782.77 552.80,782.88 552.85,782.99 552.90,783.11 552.95,783.24 553.00,783.37 553.00,783.37 553.05,783.50 553.10,783.64 553.15,783.78 553.20,783.93 553.25,784.09 553.30,786.92 553.35,787.09 553.40,787.26 553.45,787.44 553.50,787.63 553.50,787.63 553.55,787.83 553.60,788.04 553.65,786.63 553.70,786.86 553.75,787.09 553.80,787.33 553.85,787.58 553.90,790.71 553.95,790.98 554.00,791.26 554.00,791.26 554.05,791.56 554.10,791.87 554.15,792.20 554.20,792.54 554.25,792.89 554.30,793.26 554.35,793.65 554.40,794.06 554.45,789.72 554.50,790.16 554.50,790.16 554.55,790.63 554.60,791.12 554.65,791.73 554.70,792.35 554.75,794.03 554.80,794.67 554.85,795.35 554.90,796.06 554.95,796.81 555.00,797.60 555.00,797.48 555.05,798.31" fill="none" stroke="#e0263f" stroke-width="5.6" stroke-linejoin="round" stroke-linejoin="round" stroke-linecap="round"/>
<polyline points="555.05,798.31 555.10,799.19 555.15,800.11 555.20,801.09 555.25,802.11 555.30,803.35 555.35,804.49 555.40,806.91 555.45,808.10 555.50,809.38 555.50,809.38 555.55,810.73 555.60,812.18 555.65,813.72 555.70,815.38 555.75,817.15 555.80,819.21 555.85,821.22 555.90,823.38 555.95,825.71 556.00,828.21 556.00,828.21 556.05,830.91 556.10,833.83 556.15,837.05 556.20,840.53 556.25,844.29 556.30,848.35 556.35,852.76 556.40,857.53 556.45,862.71 556.50,868.33 556.50,868.33 556.55,874.43 556.60,881.06 556.65,888.25 556.70,896.05 556.75,904.50 556.80,913.64 556.85,923.50 556.90,934.09 556.95,945.42 557.00,957.47 557.00,957.47 557.05,970.18 557.10,983.45 557.15,997.11 557.20,1010.96 557.25,1024.71 557.30,1037.99 557.35,1050.39 557.40,1061.44 557.45,1070.67 557.50,1077.62 557.50,1077.62 557.55,1081.95 557.60,1083.40 557.65,1081.90 557.70,1077.52 557.75,1070.52 557.80,1061.24 557.85,1050.14 557.90,1037.69 557.95,1024.36 558.00,1010.56 558.00,1010.56 558.05,996.66 558.10,982.95 558.15,969.63 558.20,956.87 558.25,944.77 558.30,933.39 558.35,922.75 558.40,912.84 558.45,903.65 558.50,895.15 558.50,895.15 558.55,887.30 558.60,880.06 558.65,873.38 558.70,867.23 558.75,861.56 558.80,856.33 558.85,851.51 558.90,847.05 558.95,842.94 559.00,839.13 559.00,839.13 559.05,835.60 559.10,832.33 559.15,829.35 559.20,826.58 559.25,824.01 559.30,821.61 559.35,819.39 559.40,817.31 559.45,815.37 559.50,813.56 559.50,813.56 559.55,810.55 559.60,808.81 559.65,807.18 559.70,805.64 559.75,804.18 559.80,802.80 559.85,801.50 559.90,800.26 559.95,801.82 560.00,800.86 560.00,800.86 560.05,799.96 560.10,799.11 560.15,798.30 560.20,797.54 560.25,796.82" fill="none" stroke="#e0263f" stroke-width="2.6" stroke-linejoin="round" stroke-linejoin="round" stroke-linecap="round"/>
<polyline points="560.25,796.82 560.30,796.14 560.35,795.49 560.40,794.88 560.45,794.30 560.50,793.74 560.50,793.74 560.55,793.22 560.60,792.72 560.65,792.18 560.70,791.66 560.75,791.16 560.80,790.69 560.85,790.23 560.90,789.79 560.95,789.37 561.00,788.97 561.00,788.97 561.05,788.58 561.10,788.20 561.15,787.84 561.20,787.49 561.25,787.18 561.30,786.88 561.35,782.13 561.40,781.86 561.45,781.59 561.50,781.34 561.50,781.34 561.55,784.19 561.60,783.96 561.65,783.73 561.70,783.50 561.75,783.29 561.80,783.08 561.85,782.88 561.90,780.05 561.95,779.86 562.00,779.68 562.00,779.68 562.05,779.50 562.10,779.33 562.15,779.17 562.20,779.01 562.25,778.86 562.30,778.71 562.35,778.56 562.40,778.42 562.45,778.29 562.50,778.16 562.50,778.16 562.55,778.03 562.60,777.90 562.65,777.78 562.70,777.66 562.75,777.55 562.80,777.44 562.85,777.33 562.90,777.23 562.95,777.13 563.00,777.03 563.00,777.03 563.05,776.93 563.10,776.84 563.15,776.74 563.20,776.65 563.25,776.57 563.30,776.48 563.35,776.40 563.40,776.32 563.45,776.24 563.50,776.17 563.50,776.17 563.55,776.09 563.60,776.02 563.65,775.95 563.70,775.88 563.75,775.81 563.80,775.74 563.85,775.68 563.90,775.62 563.95,775.56 564.00,775.50 564.00,775.50 564.05,775.44 564.10,775.38 564.15,775.32 564.20,775.57 564.25,775.51 564.30,775.46 564.35,775.41 564.40,775.36 564.45,775.31 564.50,775.26 564.50,775.26 564.55,775.21 564.60,775.17 564.65,775.20 564.70,775.16 564.75,775.11 564.80,775.07 564.85,775.03 564.90,774.99 564.95,774.95 565.00,774.91 565.00,774.91 565.05,775.19 565.10,775.15 565.15,775.11 565.20,775.49 565.25,775.45 565.30,775.42 565.35,775.38 565.40,778.24 565.45,778.21 565.50,778.17 565.50,778.17 565.55,778.14 565.60,778.11 565.65,778.08 565.70,778.05 565.75,778.02 565.80,777.99 565.85,777.97 565.90,777.94 565.95,775.48 566.00,775.46 566.00,775.46 566.05,775.43 566.10,775.41 566.15,775.38 566.20,775.35 566.25,775.33 566.30,775.31 566.35,775.28 566.40,775.26 566.45,775.24 566.50,775.21 566.50,775.21 566.55,775.19 566.60,773.25 566.65,773.23 566.70,773.21 566.75,773.19 566.80,773.17 566.85,773.15 566.90,773.13 566.95,773.11 567.00,773.09 567.00,773.09 567.05,773.07 567.10,773.05 567.15,773.03 567.20,773.01 567.25,773.00 567.30,774.56 567.35,774.54 567.40,774.52 567.45,774.51 567.50,774.49 567.50,777.64 567.55,777.62 567.60,777.61 567.65,777.59 567.70,777.57 567.75,772.43 567.80,772.42 567.85,772.40 567.90,772.39 567.95,772.38 568.00,777.78 568.00,777.78 568.05,777.76 568.10,777.75 568.15,777.74 568.20,777.72 568.25,777.71 568.30,777.70 568.35,777.68 568.40,777.67 568.45,777.66 568.50,777.65 568.50,777.65 568.55,777.63 568.60,777.62 568.65,777.61 568.70,776.10 568.75,776.09 568.80,776.07 568.85,776.90 568.90,776.89 568.95,774.71 569.00,774.70 569.00,774.70 569.05,774.69 569.10,774.68 569.15,774.67 569.20,774.66 569.25,774.65 569.30,774.64 569.35,774.63 569.40,774.62 569.45,773.36 569.50,773.35 569.50,773.35 569.55,773.34 570.00,773.26 570.50,773.18 571.00,773.11 571.50,773.05 572.00,772.99 572.50,772.94 573.00,774.46 573.50,774.42 574.00,774.38 574.50,774.34 575.00,774.31 575.50,774.28 576.00,774.26 576.50,774.23 577.00,774.21 577.50,774.19 578.00,774.17 578.50,774.15 579.00,774.13 579.50,774.12 580.00,774.10 580.50,774.09 581.00,774.08 581.50,774.07 582.00,774.05 582.50,774.04 583.00,774.03 583.50,773.98 584.00,773.90 584.50,773.81 585.00,773.73 585.50,773.65 586.00,773.56 586.50,773.48 587.00,773.40 587.50,773.32 588.00,773.24 588.50,773.16 589.00,773.08 589.50,773.00 590.00,772.92 590.50,772.84 591.00,772.76 591.50,772.68 592.00,772.60 592.50,772.52 593.00,772.44 593.50,772.36 594.00,772.29 594.50,772.21 595.00,772.13 595.50,772.05 596.00,771.97 596.50,771.90 597.00,771.82 597.50,770.92 598.00,770.84 598.50,770.76 599.00,770.68 599.50,770.61 600.00,770.53 600.50,770.45 601.00,770.37 601.50,770.30 602.00,769.59 602.50,769.51 603.00,769.44 603.50,769.36 604.00,769.28 604.50,769.21 605.00,769.13 605.50,769.04 606.00,768.94 606.50,768.83 607.00,768.73 607.50,768.63 608.00,768.53 608.50,768.43 609.00,768.33 609.50,768.23 610.00,768.13 610.50,768.03 611.00,767.92 611.50,767.82 612.00,767.72 612.50,767.62 613.00,767.52 613.50,767.42 614.00,767.32 614.50,767.22 615.00,767.12 615.50,767.02 616.00,766.91 616.50,766.81 617.00,766.71 617.50,766.61 618.00,766.51 618.50,766.41 619.00,766.31 619.50,766.21 620.00,766.11 620.50,766.01 621.00,765.91 621.50,765.81 622.00,765.71 622.50,765.12 623.00,765.02 623.50,764.18 624.00,764.08 624.50,763.98 625.00,763.88 625.50,763.78 626.00,763.68 626.50,763.58 627.00,763.48 627.50,763.35 628.00,763.20 628.50,763.05 629.00,765.92 629.50,765.77 630.00,765.61 630.50,765.46 631.00,765.31 631.50,765.16 632.00,765.01 632.50,764.86 633.00,763.34 633.50,763.19 634.00,763.04 634.50,762.89 635.00,762.74 635.50,762.59 636.00,762.44 636.50,761.59 637.00,761.44 637.50,761.29 638.00,761.14" fill="none" stroke="#e0263f" stroke-width="5.6" stroke-linejoin="round" stroke-linejoin="round" stroke-linecap="round"/>
<line x1="134.60" y1="710.80" x2="639.10" y2="710.80" stroke="#231f20" stroke-width="2" stroke-linecap="butt"/>
<line x1="639.10" y1="709.80" x2="639.10" y2="1108.40" stroke="#231f20" stroke-width="1.9" stroke-linecap="butt"/>
<line x1="134.40" y1="709.60" x2="134.40" y2="1109.30" stroke="#333" stroke-width="2.2" stroke-linecap="butt"/>
<line x1="133.40" y1="1108.40" x2="640.00" y2="1108.40" stroke="#333" stroke-width="2.2" stroke-linecap="butt"/>
<line x1="134.50" y1="748.40" x2="140.00" y2="748.40" stroke="#444" stroke-width="1.2" stroke-linecap="butt"/>
<line x1="134.50" y1="820.30" x2="140.00" y2="820.30" stroke="#444" stroke-width="1.2" stroke-linecap="butt"/>
<line x1="134.50" y1="892.60" x2="140.00" y2="892.60" stroke="#444" stroke-width="1.2" stroke-linecap="butt"/>
<line x1="134.50" y1="964.80" x2="140.00" y2="964.80" stroke="#444" stroke-width="1.2" stroke-linecap="butt"/>
<line x1="134.50" y1="1036.70" x2="140.00" y2="1036.70" stroke="#444" stroke-width="1.2" stroke-linecap="butt"/>
<line x1="176.70" y1="1101.50" x2="176.70" y2="1108.00" stroke="#444" stroke-width="1.2" stroke-linecap="butt"/>
<line x1="222.50" y1="1101.50" x2="222.50" y2="1108.00" stroke="#444" stroke-width="1.2" stroke-linecap="butt"/>
<line x1="268.00" y1="1101.50" x2="268.00" y2="1108.00" stroke="#444" stroke-width="1.2" stroke-linecap="butt"/>
<line x1="313.80" y1="1101.50" x2="313.80" y2="1108.00" stroke="#444" stroke-width="1.2" stroke-linecap="butt"/>
<line x1="359.40" y1="1101.50" x2="359.40" y2="1108.00" stroke="#444" stroke-width="1.2" stroke-linecap="butt"/>
<line x1="404.30" y1="1101.50" x2="404.30" y2="1108.00" stroke="#444" stroke-width="1.2" stroke-linecap="butt"/>
<line x1="450.10" y1="1101.50" x2="450.10" y2="1108.00" stroke="#444" stroke-width="1.2" stroke-linecap="butt"/>
<line x1="496.20" y1="1101.50" x2="496.20" y2="1108.00" stroke="#444" stroke-width="1.2" stroke-linecap="butt"/>
<line x1="541.40" y1="1101.50" x2="541.40" y2="1108.00" stroke="#444" stroke-width="1.2" stroke-linecap="butt"/>
<line x1="587.00" y1="1101.50" x2="587.00" y2="1108.00" stroke="#444" stroke-width="1.2" stroke-linecap="butt"/>
<line x1="632.50" y1="1101.50" x2="632.50" y2="1108.00" stroke="#444" stroke-width="1.2" stroke-linecap="butt"/>
<text x="73.40" y="753.95" font-family='"Liberation Serif", serif' font-size="39.5" fill="#231f20" stroke="#231f20" stroke-width="0.45">0.6</text>
<text x="73.40" y="825.75" font-family='"Liberation Serif", serif' font-size="39.5" fill="#231f20" stroke="#231f20" stroke-width="0.45">0.5</text>
<text x="73.40" y="898.05" font-family='"Liberation Serif", serif' font-size="39.5" fill="#231f20" stroke="#231f20" stroke-width="0.45">0.4</text>
<text x="73.40" y="970.25" font-family='"Liberation Serif", serif' font-size="39.5" fill="#231f20" stroke="#231f20" stroke-width="0.45">0.3</text>
<text x="73.40" y="1042.15" font-family='"Liberation Serif", serif' font-size="39.5" fill="#231f20" stroke="#231f20" stroke-width="0.45">0.2</text>
<text x="73.40" y="1113.75" font-family='"Liberation Serif", serif' font-size="39.5" fill="#231f20" stroke="#231f20" stroke-width="0.45">0.1</text>
<text transform="translate(131.31,1150.20) scale(0.9916,1)" font-family='"Liberation Serif", serif' font-size="39.5" fill="#231f20" stroke="#231f20" stroke-width="0.45">-1.5</text>
<text transform="translate(223.24,1150.45) scale(0.9714,1)" font-family='"Liberation Serif", serif' font-size="39.5" fill="#231f20" stroke="#231f20" stroke-width="0.45">-0.5</text>
<text transform="translate(328.46,1150.45) scale(0.9613,1)" font-family='"Liberation Serif", serif' font-size="39.5" fill="#231f20" stroke="#231f20" stroke-width="0.45">0.5</text>
<text transform="translate(418.99,1150.20) scale(0.9753,1)" font-family='"Liberation Serif", serif' font-size="39.5" fill="#231f20" stroke="#231f20" stroke-width="0.45">1.5</text>
<text transform="translate(514.29,1150.45) scale(0.9751,1)" font-family='"Liberation Serif", serif' font-size="39.5" fill="#231f20" stroke="#231f20" stroke-width="0.45">2.5</text>
<text transform="translate(601.28,1150.45) scale(0.9276,1)" font-family='"Liberation Serif", serif' font-size="39.5" fill="#231f20" stroke="#231f20" stroke-width="0.45">3.5</text>
<text transform="translate(183.76,1194.05) scale(0.9946,1)" font-family='"Liberation Serif", serif' font-size="45.3" fill="#231f20" stroke="#231f20" stroke-width="0.45">Frequency offset (GHz)</text>
<text transform="translate(62.65,1027.54) rotate(-90) scale(0.9807,1)" font-family='"Liberation Serif", serif' font-size="45.3" fill="#231f20" stroke="#231f20" stroke-width="0.45">Transmission</text>
<line x1="378.90" y1="778.00" x2="378.90" y2="808.00" stroke="#231f20" stroke-width="1.3" stroke-dasharray="5.5 4.5" stroke-linecap="butt"/>
<line x1="243.00" y1="791.80" x2="362.00" y2="791.80" stroke="#231f20" stroke-width="1.6" stroke-dasharray="8 8.5" stroke-linecap="butt"/>
<polygon points="236.10,791.80 243.10,783.80 243.10,799.80" fill="#231f20"/>
<polygon points="369.60,791.80 362.60,799.80 362.60,783.80" fill="#231f20"/>
<text transform="translate(231.32,836.15) scale(0.9772,1)" font-family='"Liberation Serif", serif' font-size="37.3" fill="#231f20" stroke="#231f20" stroke-width="0.45">1.4645 GHz</text>
<line x1="237.00" y1="906.00" x2="548.00" y2="906.00" stroke="#231f20" stroke-width="1.6" stroke-dasharray="8.4 8.4" stroke-linecap="butt"/>
<polygon points="230.30,906.00 237.30,898.00 237.30,914.00" fill="#231f20"/>
<polygon points="554.50,906.00 547.50,914.00 547.50,898.00" fill="#231f20"/>
<text transform="translate(313.47,938.70) scale(0.9884,1)" font-family='"Liberation Serif", serif' font-size="37" fill="#231f20" stroke="#231f20" stroke-width="0.45">3.421 GHz</text>
<text x="659.30" y="674.30" font-family='"Liberation Serif", serif' font-size="61.3" font-weight="bold" fill="#231f20" stroke="#231f20" stroke-width="0">d</text>
<line x1="768.00" y1="680.30" x2="1089.50" y2="680.30" stroke="#231f20" stroke-width="1.6" stroke-linecap="butt"/>
<line x1="1435.40" y1="895.00" x2="1435.40" y2="1123.50" stroke="#231f20" stroke-width="1.6" stroke-linecap="butt"/>
<line x1="767.40" y1="679.50" x2="767.40" y2="1124.30" stroke="#0a0a0a" stroke-width="3.1" stroke-linecap="butt"/>
<line x1="766.00" y1="1122.60" x2="1436.40" y2="1122.60" stroke="#0a0a0a" stroke-width="3.3" stroke-linecap="butt"/>
<line x1="756.40" y1="738.50" x2="768.00" y2="738.50" stroke="#231f20" stroke-width="2.2" stroke-linecap="butt"/>
<line x1="756.40" y1="833.60" x2="768.00" y2="833.60" stroke="#231f20" stroke-width="2.2" stroke-linecap="butt"/>
<line x1="756.40" y1="929.80" x2="768.00" y2="929.80" stroke="#231f20" stroke-width="2.2" stroke-linecap="butt"/>
<line x1="756.40" y1="1025.50" x2="768.00" y2="1025.50" stroke="#231f20" stroke-width="2.2" stroke-linecap="butt"/>
<line x1="819.60" y1="1122.50" x2="819.60" y2="1134.50" stroke="#231f20" stroke-width="2.6" stroke-linecap="butt"/>
<line x1="963.40" y1="1122.50" x2="963.40" y2="1134.50" stroke="#231f20" stroke-width="2.6" stroke-linecap="butt"/>
<line x1="1107.40" y1="1122.50" x2="1107.40" y2="1134.50" stroke="#231f20" stroke-width="2.6" stroke-linecap="butt"/>
<line x1="1251.30" y1="1122.50" x2="1251.30" y2="1134.50" stroke="#231f20" stroke-width="2.6" stroke-linecap="butt"/>
<line x1="1394.90" y1="1122.50" x2="1394.90" y2="1134.50" stroke="#231f20" stroke-width="2.6" stroke-linecap="butt"/>
<text transform="translate(696.73,749.10) scale(0.9829,1)" font-family='"Liberation Serif", serif' font-size="37" fill="#231f20" stroke="#231f20" stroke-width="0.45">800</text>
<text transform="translate(696.11,845.30) scale(0.9962,1)" font-family='"Liberation Serif", serif' font-size="37" fill="#231f20" stroke="#231f20" stroke-width="0.45">600</text>
<text transform="translate(695.64,940.50) scale(1.0085,1)" font-family='"Liberation Serif", serif' font-size="37" fill="#231f20" stroke="#231f20" stroke-width="0.45">400</text>
<text transform="translate(695.38,1035.90) scale(1.0133,1)" font-family='"Liberation Serif", serif' font-size="37" fill="#231f20" stroke="#231f20" stroke-width="0.45">200</text>
<text transform="translate(794.27,1163.60) scale(1.0202,1)" font-family='"Liberation Serif", serif' font-size="39.3" fill="#231f20" stroke="#231f20" stroke-width="0.45">-60</text>
<text transform="translate(938.49,1163.60) scale(1.0081,1)" font-family='"Liberation Serif", serif' font-size="39.3" fill="#231f20" stroke="#231f20" stroke-width="0.45">-40</text>
<text transform="translate(1082.40,1163.60) scale(1.0000,1)" font-family='"Liberation Serif", serif' font-size="39.3" fill="#231f20" stroke="#231f20" stroke-width="0.45">-20</text>
<text transform="translate(1242.03,1163.60) scale(1.0448,1)" font-family='"Liberation Serif", serif' font-size="39.3" fill="#231f20" stroke="#231f20" stroke-width="0.45">0</text>
<text transform="translate(1376.02,1163.60) scale(1.0179,1)" font-family='"Liberation Serif", serif' font-size="39.3" fill="#231f20" stroke="#231f20" stroke-width="0.45">20</text>
<text transform="translate(947.76,1200.75) scale(0.9953,1)" font-family='"Liberation Serif", serif' font-size="45.3" fill="#231f20" stroke="#231f20" stroke-width="0.45">Frequency Offset (GHz)</text>
<text transform="translate(689.50,966.76) rotate(-90) scale(1.0097,1)" font-family='"Liberation Serif", serif' font-size="45" fill="#231f20" stroke="#231f20" stroke-width="0.45">Reflection</text>
<text transform="translate(938.08,954.95) scale(0.9266,1)" font-family='"Liberation Serif", serif' font-size="37.5" fill="#231f20" stroke="#231f20" stroke-width="0.45">S1</text>
<line x1="982.20" y1="943.20" x2="1055.69" y2="968.46" stroke="#231f20" stroke-width="1.8" stroke-dasharray="9.2 9.6" stroke-linecap="butt"/>
<polygon points="1062.50,970.80 1049.10,972.86 1053.20,960.94" fill="#231f20"/>
<text x="1344.30" y="1005.60" font-family='"Liberation Serif", serif' font-size="37.06" fill="#231f20" stroke="#231f20" stroke-width="0.45">pump</text>
<line x1="1340.90" y1="996.30" x2="1285.56" y2="985.04" stroke="#231f20" stroke-width="1.8" stroke-dasharray="9.4 9.2" stroke-linecap="butt"/>
<polygon points="1278.50,983.60 1291.62,979.33 1288.90,992.66" fill="#231f20"/>
<defs>
<filter id="glow" x="-20%" y="-20%" width="140%" height="140%"><feGaussianBlur stdDeviation="1.6"/></filter>
<filter id="soft" x="-20%" y="-20%" width="140%" height="140%"><feGaussianBlur stdDeviation="0.8"/></filter>
<linearGradient id="lstrip" x1="0" x2="1" y1="0" y2="0"><stop offset="0" stop-color="#e4dacb"/><stop offset="0.75" stop-color="#ddd2c4"/><stop offset="1" stop-color="#6a6266"/></linearGradient>
</defs>
<rect x="822.6" y="689.3" width="173.2" height="188.8" fill="#55535a"/>
<rect x="822.6" y="689.3" width="8" height="188.8" fill="url(#lstrip)"/>
<rect x="991" y="689.3" width="4.8" height="188.8" fill="#8a8488"/>
<g filter="url(#soft)">
<rect x="851" y="689.3" width="27" height="16" fill="#7a6a40"/>
<rect x="966" y="689.3" width="27" height="14" fill="#a0603c"/>
<rect x="837" y="825.6" width="27" height="52.5" fill="#7b7a3c"/>
<rect x="939.5" y="835.8" width="26.2" height="42.3" fill="#7b7a3c"/>
</g>
<path d="M823,705 C850,703 880,706 905,711" fill="none" stroke="#d0407a" stroke-width="5" filter="url(#glow)"/>
<path d="M823,705 C850,703 880,706 905,711" fill="none" stroke="#f0b0cc" stroke-width="2"/>
<ellipse cx="908.4" cy="785.9" rx="77.2" ry="74.8" fill="none" stroke="#d82868" stroke-width="8" filter="url(#glow)"/>
<ellipse cx="908.4" cy="785.9" rx="77.2" ry="74.8" fill="none" stroke="#fad2e8" stroke-width="3"/>
<text transform="translate(849.78,775.75) scale(0.9627,1)" font-family='"Liberation Serif", serif' font-size="27.5" fill="#ffffff" stroke="#ffffff" stroke-width="0.45">λ = 698 nm</text>
<text transform="translate(847.25,817.50) scale(1.0008,1)" font-family='"Liberation Serif", serif' font-size="27.3" fill="#ffffff" stroke="#ffffff" stroke-width="0.45">9.4258 mm</text>
<line x1="908.00" y1="785.50" x2="960.00" y2="785.50" stroke="#ffffff" stroke-width="3.2" stroke-linecap="butt"/>
<polygon points="958.1,773 958.1,799.5 982.1,785.5" fill="#ffffff"/>
<rect x="1090" y="598" width="409" height="296" fill="#ffffff"/>
<polyline points="770.40,1110.20 782.70,1108.70 796.50,1114.50 822.60,1120.00 842.50,1118.50 861.00,1116.40 874.80,1118.50 916.20,1117.00 953.00,1114.50 966.80,1113.00 979.10,1113.90 996.00,1110.80 1017.50,1106.20 1029.70,1101.60 1043.50,1092.40 1057.30,1077.10 1069.60,1032.60 1082.50,684.50 1094.20,1005.00 1108.30,1060.60 1121.50,1077.30 1134.70,1084.00 1159.60,1088.40 1185.90,1089.90 1197.60,1086.10 1212.30,1080.20 1225.50,1067.90 1238.60,1037.20 1251.80,880.50 1265.00,956.60 1277.30,1063.50 1291.40,1087.00 1303.10,1098.70 1317.70,1104.50 1342.60,1111.00 1382.10,1114.80 1411.40,1116.80 1433.40,1117.70" fill="none" stroke="#e2262b" stroke-width="2.6" stroke-linejoin="round" stroke-linejoin="miter" stroke-miterlimit="20"/>
<polyline points="1161.50,812.16 1162.60,805.55 1163.70,813.59 1164.80,813.88 1165.90,817.14 1167.00,812.54 1168.10,807.15 1169.20,812.17 1170.30,807.26 1171.40,803.81 1172.50,809.48 1173.60,798.69 1174.70,805.22 1175.80,800.36 1176.90,811.21 1178.00,803.51 1179.10,810.09 1180.20,809.15 1181.30,805.54 1182.40,807.95 1183.50,811.25 1184.60,803.01 1185.70,791.06 1186.80,802.60 1187.90,798.71 1189.00,799.87 1190.10,808.77 1191.20,796.56 1192.30,803.98 1193.40,796.20 1194.50,808.27 1195.60,811.00 1196.70,805.18 1197.80,811.79 1198.90,798.76 1200.00,808.14 1201.10,801.81 1202.20,801.08 1203.30,813.31 1204.40,814.79 1205.50,815.17 1206.60,800.46 1207.70,812.32 1208.80,811.46 1209.90,811.33 1211.00,809.86 1212.10,813.46 1213.20,805.15 1214.30,818.99 1215.40,807.70 1216.50,817.64 1217.60,816.37 1218.70,800.63 1219.80,823.40 1220.90,816.76 1222.00,818.88 1223.10,818.10 1224.20,816.07 1225.30,808.16 1226.40,821.66 1227.50,820.67 1228.60,824.08 1229.70,822.68 1230.80,803.98 1231.90,812.80 1233.00,817.57 1234.10,816.44 1235.20,817.53 1236.30,822.12 1237.40,813.44 1238.50,824.92 1239.60,823.36 1240.70,810.44 1241.80,815.57 1242.90,815.23 1244.00,812.80 1245.10,810.51 1246.20,811.11 1247.30,812.65 1248.40,810.49 1249.50,808.76 1250.60,806.84 1251.70,808.65 1252.80,808.81 1253.90,809.48 1255.00,801.29 1256.10,801.34 1257.20,800.56 1258.30,798.58 1259.40,801.94 1260.50,801.04 1261.60,808.50 1262.70,801.74 1263.80,792.13 1264.90,802.65 1266.00,798.53 1267.10,796.97 1268.20,806.17 1269.30,786.83 1270.40,796.08 1271.50,796.87 1272.60,789.02 1273.70,785.60 1274.80,782.18 1275.90,775.33 1277.00,762.50 1278.10,749.67 1279.20,732.87 1280.30,713.80 1281.40,694.73 1282.50,674.08 1283.60,650.65 1284.70,636.75 1285.80,630.79 1286.90,625.88 1288.00,622.80 1289.10,619.79 1290.20,617.43 1291.30,615.07 1292.40,615.33 1293.50,617.78 1294.60,620.55 1295.70,626.60 1296.80,635.41 1297.90,651.60 1299.00,670.16 1300.10,692.87 1301.20,711.99 1302.30,728.10 1303.40,744.21 1304.50,754.09 1305.60,761.63 1306.70,763.00 1307.80,763.00 1308.90,772.30 1310.00,781.67 1311.10,782.41 1312.20,783.16 1313.30,784.89 1314.40,789.25 1315.50,793.62 1316.60,797.00 1317.70,799.20 1318.80,801.40 1319.90,803.60 1321.00,805.80 1322.10,806.67 1323.20,807.04 1324.30,807.42 1325.40,807.79 1326.50,808.16 1327.60,808.47 1328.70,808.09 1329.80,807.72 1330.90,807.35 1332.00,806.98 1333.10,806.60 1334.20,804.77 1335.30,801.17 1336.40,797.58 1337.50,793.98 1338.60,798.68 1339.70,806.48 1340.80,814.29 1341.90,814.67 1343.00,817.52 1344.10,813.37 1345.20,802.92 1346.30,808.48 1347.40,806.07 1348.50,808.16 1349.60,819.80 1350.70,808.71 1351.80,814.05 1352.90,804.68 1354.00,805.21 1355.10,811.03 1356.20,816.54 1357.30,810.08 1358.40,816.33 1359.50,816.82 1360.60,815.40 1361.70,815.70 1362.80,802.49 1363.90,814.80 1365.00,813.70 1366.10,819.10 1367.20,814.32 1368.30,806.51 1369.40,813.60 1370.50,814.77 1371.60,803.25 1372.70,813.21 1373.80,812.76 1374.90,814.16 1376.00,817.41 1377.10,813.35 1378.20,807.14 1379.30,819.03 1380.40,810.70 1381.50,809.78 1382.60,819.24 1383.70,809.64 1384.80,810.97 1385.90,812.70 1387.00,813.83 1388.10,806.12 1389.20,800.98 1390.30,814.95 1391.40,809.08 1392.50,812.80 1393.60,808.48 1394.70,811.84 1395.80,815.88 1396.90,808.52 1398.00,824.14 1399.10,799.20 1400.20,807.97 1401.30,811.20 1402.40,816.28 1403.50,812.86 1404.60,813.56 1405.70,814.46 1406.80,817.87 1407.90,801.57 1409.00,809.07 1410.10,821.43 1411.20,814.61 1412.30,816.81 1413.40,813.71 1414.50,810.93 1415.60,819.40 1416.70,818.56 1417.80,801.89 1418.90,812.13 1420.00,799.96 1421.10,809.95 1422.20,814.11 1423.30,813.46 1424.40,815.49 1425.50,809.48 1426.60,820.02 1427.70,816.56 1428.80,809.41 1429.90,812.55 1431.00,814.83 1432.10,809.26 1433.20,819.36 1434.30,814.02 1435.40,813.98 1436.50,813.68 1437.60,813.63 1438.70,813.72 1439.80,814.50 1440.90,808.27 1442.00,810.95 1443.10,811.80 1444.20,818.70 1445.30,817.84 1446.40,811.50 1447.50,810.72 1448.60,812.51 1449.70,811.82 1450.80,812.76 1451.90,806.19 1453.00,811.64 1454.10,815.44 1455.20,805.19 1456.30,808.84 1457.40,811.18 1458.50,817.98 1459.60,808.54 1460.70,794.97 1461.80,804.11 1462.90,812.68 1464.00,818.21 1465.10,808.59 1466.20,810.33 1467.30,816.97 1468.40,805.06 1469.50,811.92 1470.60,822.99 1471.70,812.65 1472.80,800.43 1473.90,819.50 1475.00,815.14 1476.10,804.88 1477.20,824.26 1478.30,815.62 1479.40,812.43 1480.50,806.28 1481.60,810.08 1482.70,811.51 1483.80,813.47 1484.90,804.95 1486.00,810.51 1487.10,812.99 1488.20,806.24 1489.30,815.37 1490.40,813.12 1491.50,807.33 1492.60,813.63 1493.70,808.57 1494.80,815.61 1495.90,816.78 1497.00,811.48" fill="none" stroke="#e2262b" stroke-width="2.4" stroke-linejoin="round"/>
<rect x="1161.2" y="610.1" width="336.5" height="223.8" fill="none" stroke="#231f20" stroke-width="2.4"/>
<line x1="1154.50" y1="621.00" x2="1161.00" y2="621.00" stroke="#231f20" stroke-width="2.4" stroke-linecap="butt"/>
<line x1="1154.50" y1="659.00" x2="1161.00" y2="659.00" stroke="#231f20" stroke-width="2.4" stroke-linecap="butt"/>
<line x1="1154.50" y1="696.50" x2="1161.00" y2="696.50" stroke="#231f20" stroke-width="2.4" stroke-linecap="butt"/>
<line x1="1154.50" y1="734.70" x2="1161.00" y2="734.70" stroke="#231f20" stroke-width="2.4" stroke-linecap="butt"/>
<line x1="1154.50" y1="772.50" x2="1161.00" y2="772.50" stroke="#231f20" stroke-width="2.4" stroke-linecap="butt"/>
<line x1="1154.50" y1="810.70" x2="1161.00" y2="810.70" stroke="#231f20" stroke-width="2.4" stroke-linecap="butt"/>
<line x1="1162.50" y1="833.80" x2="1162.50" y2="840.80" stroke="#231f20" stroke-width="2.2" stroke-linecap="butt"/>
<line x1="1220.50" y1="833.80" x2="1220.50" y2="840.80" stroke="#231f20" stroke-width="2.2" stroke-linecap="butt"/>
<line x1="1279.10" y1="833.80" x2="1279.10" y2="840.80" stroke="#231f20" stroke-width="2.2" stroke-linecap="butt"/>
<line x1="1337.60" y1="833.80" x2="1337.60" y2="840.80" stroke="#231f20" stroke-width="2.2" stroke-linecap="butt"/>
<line x1="1396.80" y1="833.80" x2="1396.80" y2="840.80" stroke="#231f20" stroke-width="2.2" stroke-linecap="butt"/>
<line x1="1455.40" y1="833.80" x2="1455.40" y2="840.80" stroke="#231f20" stroke-width="2.2" stroke-linecap="butt"/>
<text x="1118.60" y="626.20" font-family='"Liberation Serif", serif' font-size="26.6" fill="#231f20" stroke="#231f20" stroke-width="0.45">-66</text>
<text x="1118.85" y="664.20" font-family='"Liberation Serif", serif' font-size="26.6" fill="#231f20" stroke="#231f20" stroke-width="0.45">-68</text>
<text x="1118.85" y="701.70" font-family='"Liberation Serif", serif' font-size="26.6" fill="#231f20" stroke="#231f20" stroke-width="0.45">-70</text>
<text x="1119.35" y="739.90" font-family='"Liberation Serif", serif' font-size="26.6" fill="#231f20" stroke="#231f20" stroke-width="0.45">-72</text>
<text x="1118.35" y="777.70" font-family='"Liberation Serif", serif' font-size="26.6" fill="#231f20" stroke="#231f20" stroke-width="0.45">-74</text>
<text x="1118.60" y="815.90" font-family='"Liberation Serif", serif' font-size="26.6" fill="#231f20" stroke="#231f20" stroke-width="0.45">-76</text>
<text transform="translate(1135.74,860.30) scale(1.0059,1)" font-family='"Liberation Serif", serif' font-size="28.5" fill="#231f20" stroke="#231f20" stroke-width="0.45">23.890</text>
<text transform="translate(1252.73,860.30) scale(1.0125,1)" font-family='"Liberation Serif", serif' font-size="28.5" fill="#231f20" stroke="#231f20" stroke-width="0.45">23.892</text>
<text transform="translate(1369.55,860.30) scale(0.9993,1)" font-family='"Liberation Serif", serif' font-size="28.5" fill="#231f20" stroke="#231f20" stroke-width="0.45">23.894</text>
<text transform="translate(1262.29,885.15) scale(1.0741,1)" font-family='"Liberation Serif", serif' font-size="26.5" fill="#231f20" stroke="#231f20" stroke-width="0.45">Beatnote (GHz)</text>
<text transform="translate(1118.75,778.15) rotate(-90) scale(1.0000,1)" font-family='"Liberation Serif", serif' font-size="29.54" fill="#231f20" stroke="#231f20" stroke-width="0.45">Power (dBm)</text>
<line x1="1290.30" y1="618.00" x2="1290.30" y2="833.00" stroke="#231f20" stroke-width="1.4" stroke-dasharray="16.5 16.5" stroke-linecap="butt"/>
<line x1="1346.40" y1="646.00" x2="1297.50" y2="656.96" stroke="#231f20" stroke-width="1.6" stroke-dasharray="8 6" stroke-linecap="butt"/>
<polygon points="1289.30,658.80 1301.65,649.88 1304.27,661.59" fill="#231f20"/>
<text transform="translate(1346.74,651.20) scale(1.0040,1)" font-family='"Liberation Serif", serif' font-size="28.5" fill="#231f20" stroke="#231f20" stroke-width="0.45">23.892 GHz</text>
</svg></body></html>
